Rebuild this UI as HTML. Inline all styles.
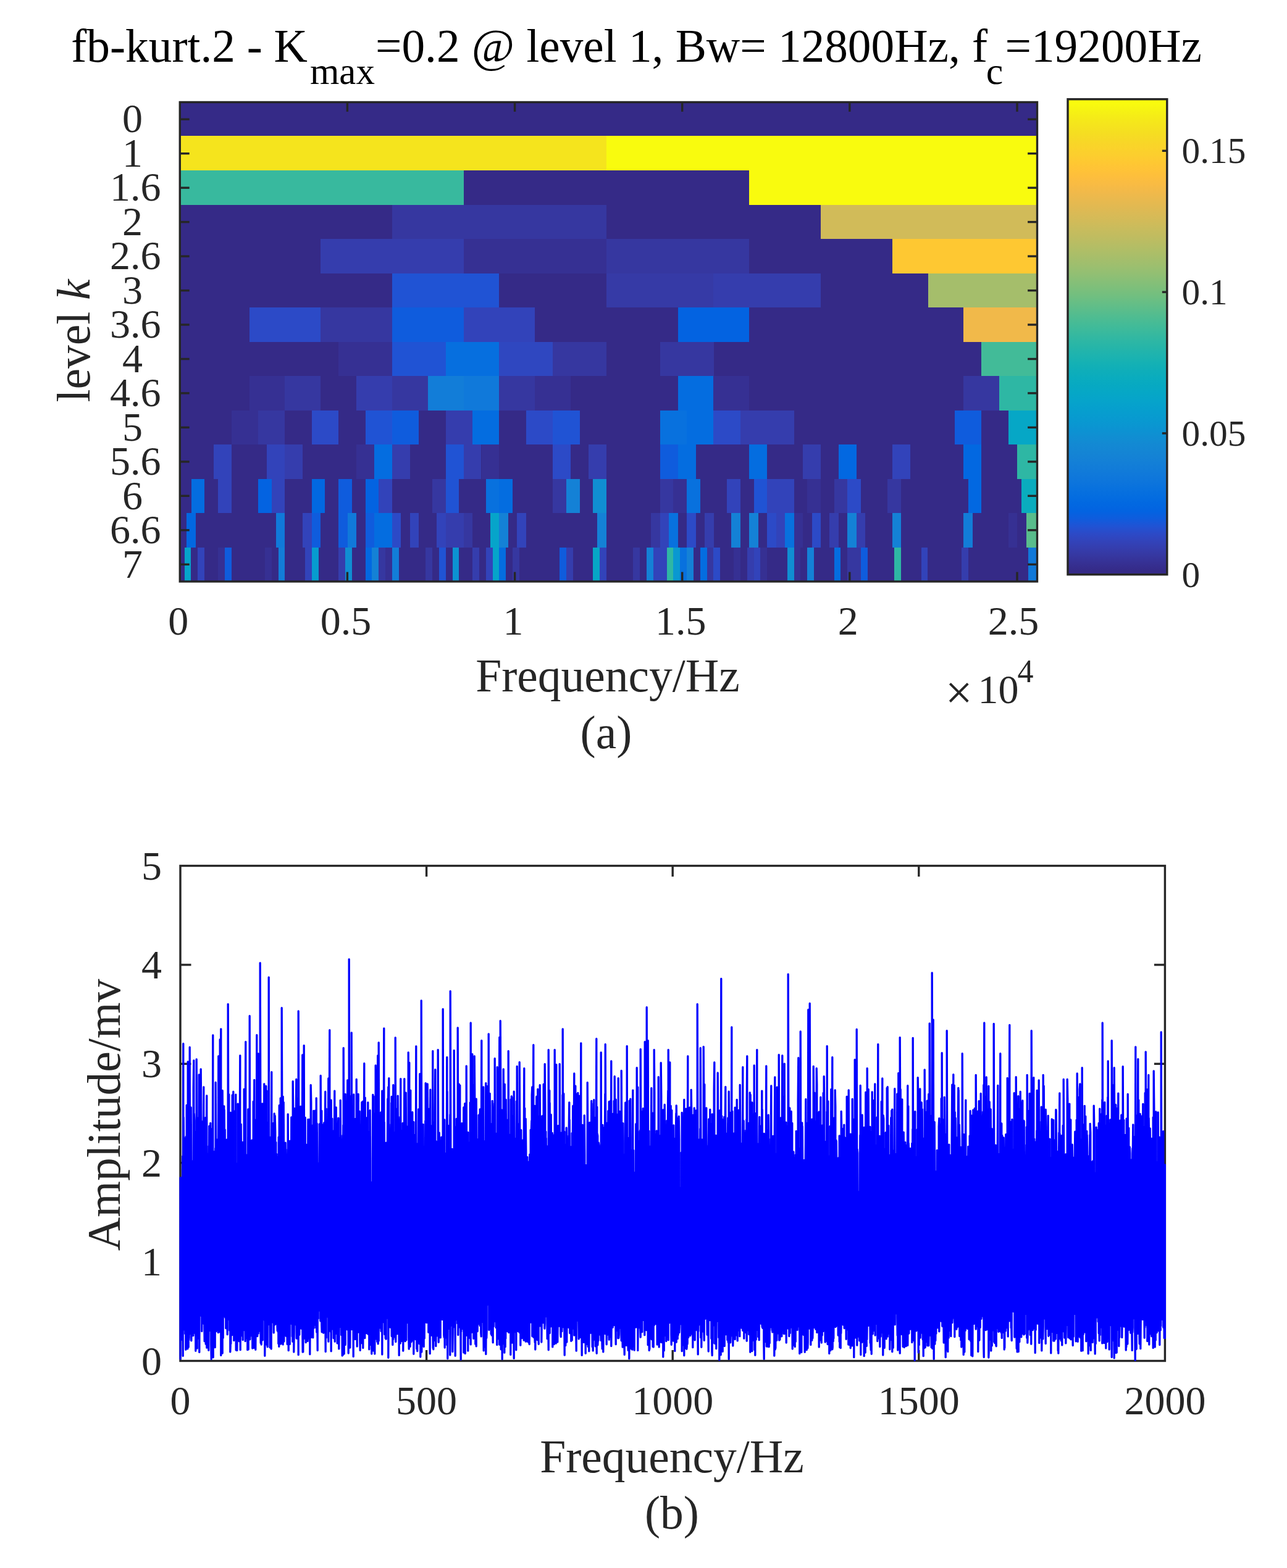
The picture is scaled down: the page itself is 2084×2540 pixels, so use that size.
<!DOCTYPE html>
<html lang="en"><head><meta charset="utf-8"><title>Fast kurtogram and spectrum</title>
<style>
html,body{margin:0;padding:0;background:#fff}
svg{display:block}
text{font-family:"Liberation Serif","DejaVu Serif",serif;white-space:pre}
</style></head><body>
<svg width="2084" height="2540" viewBox="0 0 2084 2540">
<rect width="2084" height="2540" fill="#fff"/>
<g shape-rendering="crispEdges">
<rect x="291.3" y="165.5" width="1388.2" height="776.5" fill="#352a87"/>
<rect x="291.3" y="219.9" width="690.6" height="56.5" fill="#f5e41d"/>
<rect x="981.9" y="219.9" width="697.6" height="56.5" fill="#f9fb0e"/>
<rect x="291.3" y="276.4" width="459.2" height="55.5" fill="#38b99e"/>
<rect x="1213.3" y="276.4" width="466.2" height="55.5" fill="#f9fb0e"/>
<rect x="634.9" y="331.9" width="347.1" height="55.5" fill="#3637a0"/>
<rect x="1329" y="331.9" width="350.5" height="55.5" fill="#d1bb59"/>
<rect x="519.2" y="387.4" width="231.4" height="55.5" fill="#353dad"/>
<rect x="750.5" y="387.4" width="231.4" height="55.5" fill="#363093"/>
<rect x="981.9" y="387.4" width="231.4" height="55.5" fill="#3637a0"/>
<rect x="1444.6" y="387.4" width="234.9" height="55.5" fill="#fec832"/>
<rect x="634.9" y="442.8" width="173.5" height="55.5" fill="#2053d4"/>
<rect x="981.9" y="442.8" width="173.5" height="55.5" fill="#363aa6"/>
<rect x="1155.4" y="442.8" width="173.5" height="55.5" fill="#353dad"/>
<rect x="1502.5" y="442.8" width="177" height="55.5" fill="#a5be6b"/>
<rect x="403.5" y="498.3" width="115.7" height="55.5" fill="#2c4ac7"/>
<rect x="519.2" y="498.3" width="115.7" height="55.5" fill="#3637a0"/>
<rect x="634.9" y="498.3" width="115.7" height="55.5" fill="#0f5cdd"/>
<rect x="750.5" y="498.3" width="115.7" height="55.5" fill="#3243ba"/>
<rect x="1097.6" y="498.3" width="115.7" height="55.5" fill="#0363e1"/>
<rect x="1560.3" y="498.3" width="119.2" height="55.5" fill="#f1b94a"/>
<rect x="548.1" y="553.8" width="86.8" height="55.5" fill="#363093"/>
<rect x="634.9" y="553.8" width="86.8" height="55.5" fill="#2053d4"/>
<rect x="721.6" y="553.8" width="86.8" height="55.5" fill="#066fdf"/>
<rect x="808.4" y="553.8" width="86.8" height="55.5" fill="#2f47c0"/>
<rect x="895.1" y="553.8" width="86.8" height="55.5" fill="#3637a0"/>
<rect x="1068.7" y="553.8" width="86.8" height="55.5" fill="#3637a0"/>
<rect x="1589.2" y="553.8" width="90.3" height="55.5" fill="#42bb98"/>
<rect x="403.5" y="609.2" width="57.8" height="55.5" fill="#363093"/>
<rect x="461.3" y="609.2" width="57.8" height="55.5" fill="#3637a0"/>
<rect x="577" y="609.2" width="57.8" height="55.5" fill="#353dad"/>
<rect x="634.9" y="609.2" width="57.8" height="55.5" fill="#3637a0"/>
<rect x="692.7" y="609.2" width="57.8" height="55.5" fill="#127dd8"/>
<rect x="750.5" y="609.2" width="57.8" height="55.5" fill="#1079da"/>
<rect x="808.4" y="609.2" width="57.8" height="55.5" fill="#3637a0"/>
<rect x="866.2" y="609.2" width="57.8" height="55.5" fill="#363093"/>
<rect x="1097.6" y="609.2" width="57.8" height="55.5" fill="#046de0"/>
<rect x="1155.4" y="609.2" width="57.8" height="55.5" fill="#363093"/>
<rect x="1560.3" y="609.2" width="57.8" height="55.5" fill="#3637a0"/>
<rect x="1618.2" y="609.2" width="61.3" height="55.5" fill="#2eb7a4"/>
<rect x="374.6" y="664.7" width="43.4" height="55.5" fill="#363093"/>
<rect x="417.9" y="664.7" width="43.4" height="55.5" fill="#3637a0"/>
<rect x="504.7" y="664.7" width="43.4" height="55.5" fill="#2c4ac7"/>
<rect x="591.5" y="664.7" width="43.4" height="55.5" fill="#2053d4"/>
<rect x="634.9" y="664.7" width="43.4" height="55.5" fill="#0f5cdd"/>
<rect x="721.6" y="664.7" width="43.4" height="55.5" fill="#353dad"/>
<rect x="765" y="664.7" width="43.4" height="55.5" fill="#046de0"/>
<rect x="851.8" y="664.7" width="43.4" height="55.5" fill="#2c4ac7"/>
<rect x="895.1" y="664.7" width="43.4" height="55.5" fill="#2053d4"/>
<rect x="1068.7" y="664.7" width="43.4" height="55.5" fill="#0871de"/>
<rect x="1112" y="664.7" width="43.4" height="55.5" fill="#046de0"/>
<rect x="1155.4" y="664.7" width="43.4" height="55.5" fill="#2c4ac7"/>
<rect x="1198.8" y="664.7" width="86.8" height="55.5" fill="#353dad"/>
<rect x="1545.9" y="664.7" width="43.4" height="55.5" fill="#0f5cdd"/>
<rect x="1632.6" y="664.7" width="46.9" height="55.5" fill="#06a7c6"/>
<rect x="345.6" y="720.1" width="28.9" height="55.5" fill="#3243ba"/>
<rect x="432.4" y="720.1" width="28.9" height="55.5" fill="#3243ba"/>
<rect x="461.3" y="720.1" width="28.9" height="55.5" fill="#353dad"/>
<rect x="577" y="720.1" width="28.9" height="55.5" fill="#363093"/>
<rect x="605.9" y="720.1" width="28.9" height="55.5" fill="#046de0"/>
<rect x="634.9" y="720.1" width="28.9" height="55.5" fill="#353dad"/>
<rect x="721.6" y="720.1" width="28.9" height="55.5" fill="#2053d4"/>
<rect x="750.5" y="720.1" width="28.9" height="55.5" fill="#353dad"/>
<rect x="779.5" y="720.1" width="28.9" height="55.5" fill="#363093"/>
<rect x="895.1" y="720.1" width="28.9" height="55.5" fill="#2c4ac7"/>
<rect x="953" y="720.1" width="28.9" height="55.5" fill="#353dad"/>
<rect x="1068.7" y="720.1" width="28.9" height="55.5" fill="#0f5cdd"/>
<rect x="1097.6" y="720.1" width="28.9" height="55.5" fill="#046de0"/>
<rect x="1213.3" y="720.1" width="28.9" height="55.5" fill="#046de0"/>
<rect x="1300" y="720.1" width="28.9" height="55.5" fill="#353dad"/>
<rect x="1357.9" y="720.1" width="28.9" height="55.5" fill="#0268e1"/>
<rect x="1444.6" y="720.1" width="28.9" height="55.5" fill="#3243ba"/>
<rect x="1560.3" y="720.1" width="28.9" height="55.5" fill="#0268e1"/>
<rect x="1647.1" y="720.1" width="32.4" height="55.5" fill="#2eb7a4"/>
<rect x="309.5" y="775.6" width="21.7" height="55.5" fill="#046de0"/>
<rect x="352.9" y="775.6" width="21.7" height="55.5" fill="#3243ba"/>
<rect x="417.9" y="775.6" width="21.7" height="55.5" fill="#0363e1"/>
<rect x="439.6" y="775.6" width="21.7" height="55.5" fill="#3243ba"/>
<rect x="504.7" y="775.6" width="21.7" height="55.5" fill="#0268e1"/>
<rect x="548.1" y="775.6" width="21.7" height="55.5" fill="#0f5cdd"/>
<rect x="591.5" y="775.6" width="21.7" height="55.5" fill="#0363e1"/>
<rect x="613.2" y="775.6" width="21.7" height="55.5" fill="#3243ba"/>
<rect x="699.9" y="775.6" width="21.7" height="55.5" fill="#3637a0"/>
<rect x="721.6" y="775.6" width="21.7" height="55.5" fill="#2053d4"/>
<rect x="786.7" y="775.6" width="21.7" height="55.5" fill="#0871de"/>
<rect x="808.4" y="775.6" width="21.7" height="55.5" fill="#046de0"/>
<rect x="895.1" y="775.6" width="21.7" height="55.5" fill="#3637a0"/>
<rect x="916.8" y="775.6" width="21.7" height="55.5" fill="#1481d6"/>
<rect x="960.2" y="775.6" width="21.7" height="55.5" fill="#108ed2"/>
<rect x="1068.7" y="775.6" width="21.7" height="55.5" fill="#3637a0"/>
<rect x="1090.4" y="775.6" width="21.7" height="55.5" fill="#363093"/>
<rect x="1112" y="775.6" width="21.7" height="55.5" fill="#0871de"/>
<rect x="1177.1" y="775.6" width="21.7" height="55.5" fill="#3243ba"/>
<rect x="1220.5" y="775.6" width="21.7" height="55.5" fill="#2053d4"/>
<rect x="1242.2" y="775.6" width="43.4" height="55.5" fill="#3243ba"/>
<rect x="1307.3" y="775.6" width="21.7" height="55.5" fill="#363093"/>
<rect x="1350.6" y="775.6" width="21.7" height="55.5" fill="#3637a0"/>
<rect x="1372.3" y="775.6" width="21.7" height="55.5" fill="#2c4ac7"/>
<rect x="1437.4" y="775.6" width="21.7" height="55.5" fill="#3637a0"/>
<rect x="1567.5" y="775.6" width="21.7" height="55.5" fill="#0268e1"/>
<rect x="1654.3" y="775.6" width="25.2" height="55.5" fill="#0aacbe"/>
<rect x="302.3" y="831.1" width="14.5" height="55.5" fill="#0268e1"/>
<rect x="446.9" y="831.1" width="14.5" height="55.5" fill="#1079da"/>
<rect x="490.2" y="831.1" width="14.5" height="55.5" fill="#3243ba"/>
<rect x="504.7" y="831.1" width="14.5" height="55.5" fill="#0f5cdd"/>
<rect x="548.1" y="831.1" width="14.5" height="55.5" fill="#0f5cdd"/>
<rect x="562.5" y="831.1" width="14.5" height="55.5" fill="#1079da"/>
<rect x="591.5" y="831.1" width="14.5" height="55.5" fill="#0f5cdd"/>
<rect x="605.9" y="831.1" width="28.9" height="55.5" fill="#046de0"/>
<rect x="634.9" y="831.1" width="14.5" height="55.5" fill="#2c4ac7"/>
<rect x="663.8" y="831.1" width="14.5" height="55.5" fill="#3243ba"/>
<rect x="707.2" y="831.1" width="14.5" height="55.5" fill="#3243ba"/>
<rect x="721.6" y="831.1" width="28.9" height="55.5" fill="#353dad"/>
<rect x="750.5" y="831.1" width="14.5" height="55.5" fill="#3637a0"/>
<rect x="793.9" y="831.1" width="14.5" height="55.5" fill="#06a4ca"/>
<rect x="808.4" y="831.1" width="14.5" height="55.5" fill="#1481d6"/>
<rect x="837.3" y="831.1" width="14.5" height="55.5" fill="#3243ba"/>
<rect x="967.4" y="831.1" width="14.5" height="55.5" fill="#1481d6"/>
<rect x="1054.2" y="831.1" width="14.5" height="55.5" fill="#3637a0"/>
<rect x="1068.7" y="831.1" width="14.5" height="55.5" fill="#3243ba"/>
<rect x="1083.1" y="831.1" width="14.5" height="55.5" fill="#0871de"/>
<rect x="1112" y="831.1" width="14.5" height="55.5" fill="#2c4ac7"/>
<rect x="1141" y="831.1" width="14.5" height="55.5" fill="#353dad"/>
<rect x="1184.3" y="831.1" width="14.5" height="55.5" fill="#1481d6"/>
<rect x="1213.3" y="831.1" width="14.5" height="55.5" fill="#1481d6"/>
<rect x="1242.2" y="831.1" width="14.5" height="55.5" fill="#2c4ac7"/>
<rect x="1256.6" y="831.1" width="14.5" height="55.5" fill="#3243ba"/>
<rect x="1271.1" y="831.1" width="14.5" height="55.5" fill="#0871de"/>
<rect x="1285.6" y="831.1" width="14.5" height="55.5" fill="#363093"/>
<rect x="1314.5" y="831.1" width="14.5" height="55.5" fill="#2c4ac7"/>
<rect x="1343.4" y="831.1" width="14.5" height="55.5" fill="#353dad"/>
<rect x="1372.3" y="831.1" width="14.5" height="55.5" fill="#1481d6"/>
<rect x="1386.8" y="831.1" width="14.5" height="55.5" fill="#353dad"/>
<rect x="1444.6" y="831.1" width="14.5" height="55.5" fill="#1481d6"/>
<rect x="1560.3" y="831.1" width="14.5" height="55.5" fill="#127dd8"/>
<rect x="1632.6" y="831.1" width="14.5" height="55.5" fill="#363093"/>
<rect x="1661.5" y="831.1" width="18" height="55.5" fill="#59bd8c"/>
<rect x="298.6" y="886.5" width="10.8" height="55.5" fill="#06a4ca"/>
<rect x="320.3" y="886.5" width="10.8" height="55.5" fill="#3243ba"/>
<rect x="352.9" y="886.5" width="10.8" height="55.5" fill="#363093"/>
<rect x="363.7" y="886.5" width="10.8" height="55.5" fill="#0f5cdd"/>
<rect x="428.8" y="886.5" width="10.8" height="55.5" fill="#363093"/>
<rect x="450.5" y="886.5" width="10.8" height="55.5" fill="#127dd8"/>
<rect x="493.9" y="886.5" width="10.8" height="55.5" fill="#3243ba"/>
<rect x="504.7" y="886.5" width="10.8" height="55.5" fill="#079ccf"/>
<rect x="548.1" y="886.5" width="10.8" height="55.5" fill="#353dad"/>
<rect x="558.9" y="886.5" width="10.8" height="55.5" fill="#108ed2"/>
<rect x="591.5" y="886.5" width="10.8" height="55.5" fill="#0268e1"/>
<rect x="602.3" y="886.5" width="10.8" height="55.5" fill="#1481d6"/>
<rect x="613.2" y="886.5" width="10.8" height="55.5" fill="#3637a0"/>
<rect x="624" y="886.5" width="10.8" height="55.5" fill="#363093"/>
<rect x="634.9" y="886.5" width="10.8" height="55.5" fill="#127dd8"/>
<rect x="689.1" y="886.5" width="10.8" height="55.5" fill="#3637a0"/>
<rect x="710.8" y="886.5" width="10.8" height="55.5" fill="#2053d4"/>
<rect x="732.5" y="886.5" width="10.8" height="55.5" fill="#0c93d2"/>
<rect x="765" y="886.5" width="10.8" height="55.5" fill="#353dad"/>
<rect x="786.7" y="886.5" width="10.8" height="55.5" fill="#3243ba"/>
<rect x="797.5" y="886.5" width="10.8" height="55.5" fill="#06a4ca"/>
<rect x="808.4" y="886.5" width="10.8" height="55.5" fill="#046de0"/>
<rect x="830.1" y="886.5" width="10.8" height="55.5" fill="#3637a0"/>
<rect x="906" y="886.5" width="10.8" height="55.5" fill="#0f5cdd"/>
<rect x="916.8" y="886.5" width="10.8" height="55.5" fill="#353dad"/>
<rect x="960.2" y="886.5" width="10.8" height="55.5" fill="#06a7c6"/>
<rect x="971.1" y="886.5" width="10.8" height="55.5" fill="#3243ba"/>
<rect x="1025.3" y="886.5" width="10.8" height="55.5" fill="#3637a0"/>
<rect x="1047" y="886.5" width="10.8" height="55.5" fill="#1481d6"/>
<rect x="1057.8" y="886.5" width="21.7" height="55.5" fill="#3243ba"/>
<rect x="1079.5" y="886.5" width="10.8" height="55.5" fill="#2eb7a4"/>
<rect x="1090.4" y="886.5" width="10.8" height="55.5" fill="#0998d1"/>
<rect x="1101.2" y="886.5" width="10.8" height="55.5" fill="#0871de"/>
<rect x="1112" y="886.5" width="10.8" height="55.5" fill="#1481d6"/>
<rect x="1133.7" y="886.5" width="10.8" height="55.5" fill="#046de0"/>
<rect x="1144.6" y="886.5" width="10.8" height="55.5" fill="#3637a0"/>
<rect x="1155.4" y="886.5" width="10.8" height="55.5" fill="#2c4ac7"/>
<rect x="1188" y="886.5" width="10.8" height="55.5" fill="#363093"/>
<rect x="1209.7" y="886.5" width="10.8" height="55.5" fill="#353dad"/>
<rect x="1220.5" y="886.5" width="10.8" height="55.5" fill="#3243ba"/>
<rect x="1231.3" y="886.5" width="10.8" height="55.5" fill="#363093"/>
<rect x="1274.7" y="886.5" width="10.8" height="55.5" fill="#108ed2"/>
<rect x="1285.6" y="886.5" width="10.8" height="55.5" fill="#363093"/>
<rect x="1307.3" y="886.5" width="10.8" height="55.5" fill="#1481d6"/>
<rect x="1350.6" y="886.5" width="10.8" height="55.5" fill="#046de0"/>
<rect x="1372.3" y="886.5" width="21.7" height="55.5" fill="#3637a0"/>
<rect x="1394" y="886.5" width="10.8" height="55.5" fill="#0f5cdd"/>
<rect x="1448.2" y="886.5" width="10.8" height="55.5" fill="#2eb7a4"/>
<rect x="1491.6" y="886.5" width="10.8" height="55.5" fill="#3243ba"/>
<rect x="1556.7" y="886.5" width="10.8" height="55.5" fill="#353dad"/>
<rect x="1665.2" y="886.5" width="14.3" height="55.5" fill="#1079da"/>
</g>
<rect x="291.3" y="165.5" width="1388.2" height="776.5" fill="none" stroke="#262626" stroke-width="3.4"/>
<line x1="291.3" y1="193.2" x2="306.7" y2="193.2" stroke="#262626" stroke-width="3.4"/>
<line x1="1664.1" y1="193.2" x2="1679.5" y2="193.2" stroke="#262626" stroke-width="3.4"/>
<line x1="291.3" y1="248.7" x2="306.7" y2="248.7" stroke="#262626" stroke-width="3.4"/>
<line x1="1664.1" y1="248.7" x2="1679.5" y2="248.7" stroke="#262626" stroke-width="3.4"/>
<line x1="291.3" y1="304.2" x2="306.7" y2="304.2" stroke="#262626" stroke-width="3.4"/>
<line x1="1664.1" y1="304.2" x2="1679.5" y2="304.2" stroke="#262626" stroke-width="3.4"/>
<line x1="291.3" y1="359.6" x2="306.7" y2="359.6" stroke="#262626" stroke-width="3.4"/>
<line x1="1664.1" y1="359.6" x2="1679.5" y2="359.6" stroke="#262626" stroke-width="3.4"/>
<line x1="291.3" y1="415.1" x2="306.7" y2="415.1" stroke="#262626" stroke-width="3.4"/>
<line x1="1664.1" y1="415.1" x2="1679.5" y2="415.1" stroke="#262626" stroke-width="3.4"/>
<line x1="291.3" y1="470.6" x2="306.7" y2="470.6" stroke="#262626" stroke-width="3.4"/>
<line x1="1664.1" y1="470.6" x2="1679.5" y2="470.6" stroke="#262626" stroke-width="3.4"/>
<line x1="291.3" y1="526" x2="306.7" y2="526" stroke="#262626" stroke-width="3.4"/>
<line x1="1664.1" y1="526" x2="1679.5" y2="526" stroke="#262626" stroke-width="3.4"/>
<line x1="291.3" y1="581.5" x2="306.7" y2="581.5" stroke="#262626" stroke-width="3.4"/>
<line x1="1664.1" y1="581.5" x2="1679.5" y2="581.5" stroke="#262626" stroke-width="3.4"/>
<line x1="291.3" y1="636.9" x2="306.7" y2="636.9" stroke="#262626" stroke-width="3.4"/>
<line x1="1664.1" y1="636.9" x2="1679.5" y2="636.9" stroke="#262626" stroke-width="3.4"/>
<line x1="291.3" y1="692.4" x2="306.7" y2="692.4" stroke="#262626" stroke-width="3.4"/>
<line x1="1664.1" y1="692.4" x2="1679.5" y2="692.4" stroke="#262626" stroke-width="3.4"/>
<line x1="291.3" y1="747.9" x2="306.7" y2="747.9" stroke="#262626" stroke-width="3.4"/>
<line x1="1664.1" y1="747.9" x2="1679.5" y2="747.9" stroke="#262626" stroke-width="3.4"/>
<line x1="291.3" y1="803.3" x2="306.7" y2="803.3" stroke="#262626" stroke-width="3.4"/>
<line x1="1664.1" y1="803.3" x2="1679.5" y2="803.3" stroke="#262626" stroke-width="3.4"/>
<line x1="291.3" y1="858.8" x2="306.7" y2="858.8" stroke="#262626" stroke-width="3.4"/>
<line x1="1664.1" y1="858.8" x2="1679.5" y2="858.8" stroke="#262626" stroke-width="3.4"/>
<line x1="291.3" y1="914.3" x2="306.7" y2="914.3" stroke="#262626" stroke-width="3.4"/>
<line x1="1664.1" y1="914.3" x2="1679.5" y2="914.3" stroke="#262626" stroke-width="3.4"/>
<line x1="562.4" y1="942" x2="562.4" y2="926.6" stroke="#262626" stroke-width="3.4"/>
<line x1="562.4" y1="165.5" x2="562.4" y2="180.9" stroke="#262626" stroke-width="3.4"/>
<line x1="833.6" y1="942" x2="833.6" y2="926.6" stroke="#262626" stroke-width="3.4"/>
<line x1="833.6" y1="165.5" x2="833.6" y2="180.9" stroke="#262626" stroke-width="3.4"/>
<line x1="1104.7" y1="942" x2="1104.7" y2="926.6" stroke="#262626" stroke-width="3.4"/>
<line x1="1104.7" y1="165.5" x2="1104.7" y2="180.9" stroke="#262626" stroke-width="3.4"/>
<line x1="1375.8" y1="942" x2="1375.8" y2="926.6" stroke="#262626" stroke-width="3.4"/>
<line x1="1375.8" y1="165.5" x2="1375.8" y2="180.9" stroke="#262626" stroke-width="3.4"/>
<line x1="1647" y1="942" x2="1647" y2="926.6" stroke="#262626" stroke-width="3.4"/>
<line x1="1647" y1="165.5" x2="1647" y2="180.9" stroke="#262626" stroke-width="3.4"/>
<defs><linearGradient id="pg" x1="0" y1="1" x2="0" y2="0">
<stop offset="0.0078" stop-color="#352a87"/>
<stop offset="0.0234" stop-color="#363093"/>
<stop offset="0.0391" stop-color="#3637a0"/>
<stop offset="0.0547" stop-color="#353dad"/>
<stop offset="0.0703" stop-color="#3243ba"/>
<stop offset="0.0859" stop-color="#2c4ac7"/>
<stop offset="0.1016" stop-color="#2053d4"/>
<stop offset="0.1172" stop-color="#0f5cdd"/>
<stop offset="0.1328" stop-color="#0363e1"/>
<stop offset="0.1484" stop-color="#0268e1"/>
<stop offset="0.1641" stop-color="#046de0"/>
<stop offset="0.1797" stop-color="#0871de"/>
<stop offset="0.1953" stop-color="#0d75dc"/>
<stop offset="0.2109" stop-color="#1079da"/>
<stop offset="0.2266" stop-color="#127dd8"/>
<stop offset="0.2422" stop-color="#1481d6"/>
<stop offset="0.2578" stop-color="#1485d4"/>
<stop offset="0.2734" stop-color="#1389d3"/>
<stop offset="0.2891" stop-color="#108ed2"/>
<stop offset="0.3047" stop-color="#0c93d2"/>
<stop offset="0.3203" stop-color="#0998d1"/>
<stop offset="0.3359" stop-color="#079ccf"/>
<stop offset="0.3516" stop-color="#06a0cd"/>
<stop offset="0.3672" stop-color="#06a4ca"/>
<stop offset="0.3828" stop-color="#06a7c6"/>
<stop offset="0.3984" stop-color="#07a9c2"/>
<stop offset="0.4141" stop-color="#0aacbe"/>
<stop offset="0.4297" stop-color="#0faeb9"/>
<stop offset="0.4453" stop-color="#15b1b4"/>
<stop offset="0.4609" stop-color="#1db3af"/>
<stop offset="0.4766" stop-color="#25b5a9"/>
<stop offset="0.4922" stop-color="#2eb7a4"/>
<stop offset="0.5078" stop-color="#38b99e"/>
<stop offset="0.5234" stop-color="#42bb98"/>
<stop offset="0.5391" stop-color="#4dbc92"/>
<stop offset="0.5547" stop-color="#59bd8c"/>
<stop offset="0.5703" stop-color="#65be86"/>
<stop offset="0.5859" stop-color="#71bf80"/>
<stop offset="0.6016" stop-color="#7cbf7b"/>
<stop offset="0.6172" stop-color="#87bf77"/>
<stop offset="0.6328" stop-color="#92bf73"/>
<stop offset="0.6484" stop-color="#9cbf6f"/>
<stop offset="0.6641" stop-color="#a5be6b"/>
<stop offset="0.6797" stop-color="#aebe67"/>
<stop offset="0.6953" stop-color="#b7bd64"/>
<stop offset="0.7109" stop-color="#c0bc60"/>
<stop offset="0.7266" stop-color="#c8bc5d"/>
<stop offset="0.7422" stop-color="#d1bb59"/>
<stop offset="0.7578" stop-color="#d9ba56"/>
<stop offset="0.7734" stop-color="#e1b952"/>
<stop offset="0.7891" stop-color="#e9b94e"/>
<stop offset="0.8047" stop-color="#f1b94a"/>
<stop offset="0.8203" stop-color="#f8bb44"/>
<stop offset="0.8359" stop-color="#fdbe3d"/>
<stop offset="0.8516" stop-color="#ffc337"/>
<stop offset="0.8672" stop-color="#fec832"/>
<stop offset="0.8828" stop-color="#fcce2e"/>
<stop offset="0.8984" stop-color="#fad32a"/>
<stop offset="0.9141" stop-color="#f7d826"/>
<stop offset="0.9297" stop-color="#f5de21"/>
<stop offset="0.9453" stop-color="#f5e41d"/>
<stop offset="0.9609" stop-color="#f5eb18"/>
<stop offset="0.9766" stop-color="#f6f313"/>
<stop offset="0.9922" stop-color="#f9fb0e"/>
</linearGradient></defs>
<rect x="1729" y="160.7" width="160.8" height="770" fill="url(#pg)"/>
<rect x="1729" y="160.7" width="160.8" height="770" fill="none" stroke="#262626" stroke-width="3.4"/>
<line x1="1881.8" y1="701.9" x2="1889.8" y2="701.9" stroke="#262626" stroke-width="3.4"/>
<line x1="1881.8" y1="473.1" x2="1889.8" y2="473.1" stroke="#262626" stroke-width="3.4"/>
<line x1="1881.8" y1="244.3" x2="1889.8" y2="244.3" stroke="#262626" stroke-width="3.4"/>
<text x="1913.5" y="950.7" font-size="59.4" text-anchor="start" fill="#262626">0</text>
<text x="1913.5" y="721.9" font-size="59.4" text-anchor="start" fill="#262626">0.05</text>
<text x="1913.5" y="493.1" font-size="59.4" text-anchor="start" fill="#262626">0.1</text>
<text x="1913.5" y="264.3" font-size="59.4" text-anchor="start" fill="#262626">0.15</text>
<text x="231" y="214.4" font-size="66" text-anchor="end" fill="#262626">0</text>
<text x="231" y="269.9" font-size="66" text-anchor="end" fill="#262626">1</text>
<text x="260.5" y="325.4" font-size="66" text-anchor="end" fill="#262626">1.6</text>
<text x="231" y="380.8" font-size="66" text-anchor="end" fill="#262626">2</text>
<text x="260.5" y="436.3" font-size="66" text-anchor="end" fill="#262626">2.6</text>
<text x="231" y="491.8" font-size="66" text-anchor="end" fill="#262626">3</text>
<text x="260.5" y="547.2" font-size="66" text-anchor="end" fill="#262626">3.6</text>
<text x="231" y="602.7" font-size="66" text-anchor="end" fill="#262626">4</text>
<text x="260.5" y="658.1" font-size="66" text-anchor="end" fill="#262626">4.6</text>
<text x="231" y="713.6" font-size="66" text-anchor="end" fill="#262626">5</text>
<text x="260.5" y="769.1" font-size="66" text-anchor="end" fill="#262626">5.6</text>
<text x="231" y="824.5" font-size="66" text-anchor="end" fill="#262626">6</text>
<text x="260.5" y="880" font-size="66" text-anchor="end" fill="#262626">6.6</text>
<text x="231" y="935.5" font-size="66" text-anchor="end" fill="#262626">7</text>
<text x="288.8" y="1027.5" font-size="66" text-anchor="middle" fill="#262626">0</text>
<text x="559.9" y="1027.5" font-size="66" text-anchor="middle" fill="#262626">0.5</text>
<text x="831.1" y="1027.5" font-size="66" text-anchor="middle" fill="#262626">1</text>
<text x="1102.2" y="1027.5" font-size="66" text-anchor="middle" fill="#262626">1.5</text>
<text x="1373.3" y="1027.5" font-size="66" text-anchor="middle" fill="#262626">2</text>
<text x="1641" y="1027.5" font-size="66" text-anchor="middle" fill="#262626">2.5</text>
<text x="984" y="1120.3" font-size="75.5" text-anchor="middle" fill="#262626">Frequency/Hz</text>
<text x="1530.8" y="1147.7" font-size="78" text-anchor="start" fill="#262626">×</text>
<text x="1583.4" y="1139.4" font-size="66" text-anchor="start" fill="#262626">10</text>
<text x="1647.6" y="1105" font-size="52" text-anchor="start" fill="#262626">4</text>
<text x="981.5" y="1211.5" font-size="75.5" text-anchor="middle" fill="#262626">(a)</text>
<text transform="translate(145,552) rotate(-90)" font-size="75.5" text-anchor="middle" fill="#262626">level <tspan font-style="italic">k</tspan></text>
<text x="115.3" y="100" font-size="75.3" fill="#000">fb-kurt.2 - K</text>
<text x="501.9" y="135.5" font-size="61" fill="#000">max</text>
<text x="608" y="100" font-size="75.3" fill="#000" word-spacing="0.4">=0.2 @ level 1, Bw= 12800Hz, f</text>
<text x="1596.8" y="135.5" font-size="62" fill="#000">c</text>
<text x="1627.5" y="100" font-size="75.3" fill="#000">=19200Hz</text>
<rect x="292" y="1402.5" width="1594.4" height="802" fill="none" stroke="#262626" stroke-width="3.4"/>
<line x1="690.6" y1="2204.5" x2="690.6" y2="2187" stroke="#262626" stroke-width="3.4"/>
<line x1="690.6" y1="1402.5" x2="690.6" y2="1420" stroke="#262626" stroke-width="3.4"/>
<line x1="1089.2" y1="2204.5" x2="1089.2" y2="2187" stroke="#262626" stroke-width="3.4"/>
<line x1="1089.2" y1="1402.5" x2="1089.2" y2="1420" stroke="#262626" stroke-width="3.4"/>
<line x1="1487.8" y1="2204.5" x2="1487.8" y2="2187" stroke="#262626" stroke-width="3.4"/>
<line x1="1487.8" y1="1402.5" x2="1487.8" y2="1420" stroke="#262626" stroke-width="3.4"/>
<line x1="292" y1="2044.1" x2="309.5" y2="2044.1" stroke="#262626" stroke-width="3.4"/>
<line x1="1868.9" y1="2044.1" x2="1886.4" y2="2044.1" stroke="#262626" stroke-width="3.4"/>
<line x1="292" y1="1883.7" x2="309.5" y2="1883.7" stroke="#262626" stroke-width="3.4"/>
<line x1="1868.9" y1="1883.7" x2="1886.4" y2="1883.7" stroke="#262626" stroke-width="3.4"/>
<line x1="292" y1="1723.3" x2="309.5" y2="1723.3" stroke="#262626" stroke-width="3.4"/>
<line x1="1868.9" y1="1723.3" x2="1886.4" y2="1723.3" stroke="#262626" stroke-width="3.4"/>
<line x1="292" y1="1562.9" x2="309.5" y2="1562.9" stroke="#262626" stroke-width="3.4"/>
<line x1="1868.9" y1="1562.9" x2="1886.4" y2="1562.9" stroke="#262626" stroke-width="3.4"/>
<text x="262" y="2226.5" font-size="66" text-anchor="end" fill="#262626">0</text>
<text x="262" y="2066.1" font-size="66" text-anchor="end" fill="#262626">1</text>
<text x="262" y="1905.7" font-size="66" text-anchor="end" fill="#262626">2</text>
<text x="262" y="1745.3" font-size="66" text-anchor="end" fill="#262626">3</text>
<text x="262" y="1584.9" font-size="66" text-anchor="end" fill="#262626">4</text>
<text x="262" y="1424.5" font-size="66" text-anchor="end" fill="#262626">5</text>
<text x="292" y="2291" font-size="66" text-anchor="middle" fill="#262626">0</text>
<text x="690.6" y="2291" font-size="66" text-anchor="middle" fill="#262626">500</text>
<text x="1089.2" y="2291" font-size="66" text-anchor="middle" fill="#262626">1000</text>
<text x="1487.8" y="2291" font-size="66" text-anchor="middle" fill="#262626">1500</text>
<text x="1886.4" y="2291" font-size="66" text-anchor="middle" fill="#262626">2000</text>
<text x="1088" y="2385" font-size="75.5" text-anchor="middle" fill="#262626">Frequency/Hz</text>
<text x="1088" y="2475.5" font-size="75.5" text-anchor="middle" fill="#262626">(b)</text>
<text transform="translate(194.2,1806) rotate(-90)" font-size="75.5" text-anchor="middle" fill="#262626">Amplitude/mv</text>
<clipPath id="pc"><rect x="290.1" y="1400.5" width="1598" height="806"/></clipPath>
<polyline clip-path="url(#pc)" points="292,2201.3 292,1907.8 292.8,1929.5 292.8,2145.6 293.2,2148.2 293.2,1907.8 293.8,1907.8 293.8,2170.3 294.2,2123 294.2,1950.6 294.8,1913.8 294.8,2059.1 295.2,2082 295.2,1981.5 295.8,1872.8 295.8,2108.4 296.2,2196.4 296.2,1954 296.8,1690.7 296.8,2137.5 297.2,2154.1 297.2,1810 297.8,1908.5 297.8,2123.7 298.2,2121.8 298.2,1953.7 298.8,1932.6 298.8,2112.8 299.2,2035.2 299.2,1844 299.8,1893.3 299.8,2160.6 300.2,2146.8 300.2,1925.5 300.8,1921.7 300.8,2186.3 301.2,2153 301.2,1841.1 301.8,1980.9 301.8,2123.3 302.2,2164.6 302.2,1790.3 302.8,1870.7 302.8,2111.7 303.2,2112 303.2,1910.1 303.8,1927.7 303.8,2184.9 304.2,2171.5 304.2,1719.8 304.8,1842.3 304.8,2122.6 305.2,2182.3 305.2,1856.2 305.8,1895.2 305.8,2171 306.2,2166.6 306.2,1869.5 306.8,1955.4 306.8,2114.5 307.2,2104.9 307.2,1696.5 307.8,2024.6 307.8,2132 308.2,2150.1 308.2,1859.8 308.8,1836 308.8,2079 309.2,2161.2 309.2,1793.9 309.8,1922.9 309.8,2171.8 310.2,2137.6 310.2,1880.6 310.8,1923.7 310.8,2132.8 311.2,2119 311.2,1918.9 311.8,1882.8 311.8,2134.8 312.2,2073.1 312.2,1880.7 312.8,1949.5 312.8,2163.7 313.2,2154.4 313.2,1762.1 313.8,1717.8 313.8,2060.2 314.2,2151.1 314.2,1803.9 314.8,1815.7 314.8,2122.5 315.2,2159.2 315.2,1852.2 315.8,2114.1 315.8,2157.2 316.2,2137.8 316.2,1833.4 316.8,1845 316.8,2188.3 317.2,2050.8 317.2,1883.2 317.8,1895.6 317.8,2135.4 318.2,2103.9 318.2,1715.9 318.8,1848 318.8,2133.2 319.2,2184.2 319.2,1919.1 319.8,1828 319.8,2112.8 320.2,2131 320.2,1867 320.8,1934.1 320.8,2168 321.2,2131.6 321.2,1916.2 321.8,1810.2 321.8,2092.8 322.2,2118.5 322.2,1740.8 322.8,1854.1 322.8,2190.4 323.2,2080.6 323.2,1801.7 323.8,1875.7 323.8,2060.4 324.2,2091.2 324.2,1855.7 324.8,1880.9 324.8,2062.6 325.2,2130.2 325.2,1731.9 325.8,1831 325.8,2104.9 326.2,2131.8 326.2,1860.8 326.8,1816.7 326.8,2156.4 327.2,2070.5 327.2,1824.6 327.8,1873.9 327.8,2121.6 328.2,2134.8 328.2,1847.2 328.8,1984.9 328.8,2100.7 329.2,2101.6 329.2,1901.3 329.8,1761 329.8,2058.7 330.2,2144.7 330.2,2024 330.8,1931.6 330.8,2142.5 331.2,2172.7 331.2,1817.7 331.8,1816.5 331.8,2083 332.2,2129.8 332.2,1922 332.8,1810.6 332.8,2117.9 333.2,2177.2 333.2,1875.6 333.8,1823.4 333.8,2161.3 334.2,2128.5 334.2,1849.8 334.8,1775 334.8,2183.2 335.2,2095.3 335.2,1856.3 335.8,1950.8 335.8,2166.7 336.2,2144.8 336.2,1882.7 336.8,1870.7 336.8,2177.6 337.2,2131 337.2,1869.4 337.8,2021.9 337.8,2187.3 338.2,2133.3 338.2,1981 338.8,1824.1 338.8,2126 339.2,2123.6 339.2,1889.9 339.8,1902.5 339.8,2090.1 340.2,2104.3 340.2,1895.9 340.8,1819.3 340.8,2155.4 341.2,2113.3 341.2,1913.9 341.8,1942.4 341.8,2178.3 342.2,2201.6 342.2,1870.3 342.8,1829 342.8,2159.2 343.2,2166 343.2,1916.7 343.8,1893.5 343.8,2115.9 344.2,2153.4 344.2,1965.2 344.8,1676.9 344.8,2087.9 345.2,2198.8 345.2,1904.7 345.8,1931 345.8,2143.8 346.2,2150 346.2,1887.4 346.8,1891.2 346.8,2128.7 347.2,2074.4 347.2,1948.4 347.8,1865.2 347.8,2117.2 348.2,2182.7 348.2,1921.7 348.8,1860 348.8,2051.8 349.2,2151.3 349.2,1753.4 349.8,1925 349.8,2156.7 350.2,2152.2 350.2,1989.6 350.8,1846 350.8,2121.6 351.2,2141.9 351.2,1981.2 351.8,1937.2 351.8,2116.3 352.2,2102.2 352.2,1932.8 352.8,1887 352.8,2069.1 353.2,2158.5 353.2,1945.4 353.8,1710.8 353.8,2158.3 354.2,2060.6 354.2,1894.8 354.8,1893.4 354.8,2097.3 355.2,2121.2 355.2,1887.5 355.8,1953.4 355.8,2106.1 356.2,2047.9 356.2,1684 356.8,1851.7 356.8,2157.9 357.2,2093.3 357.2,1848.1 357.8,1666.8 357.8,2195.6 358.2,2154.1 358.2,1955.5 358.8,1792.4 358.8,2165.2 359.2,2103.2 359.2,1910.2 359.8,1881.9 359.8,2086.2 360.2,2192 360.2,1766.6 360.8,1844.7 360.8,2148.4 361.2,2167.3 361.2,1947.1 361.8,1928.8 361.8,2092.2 362.2,2108.3 362.2,1817.7 362.8,1791.8 362.8,2120.2 363.2,2128.3 363.2,1797.9 363.8,1904 363.8,2073 364.2,2132.6 364.2,1829.9 364.8,1976.8 364.8,2134.3 365.2,2121.4 365.2,1858.6 365.8,1924.9 365.8,2151.7 366.2,2106.5 366.2,1921 366.8,1930.2 366.8,2099 367.2,2095.7 367.2,1846.1 367.8,1933.1 367.8,2114.2 368.2,2161.7 368.2,1943.4 368.8,1862.3 368.8,2110.5 369.2,2085.1 369.2,1626.6 369.8,1823 369.8,2102.4 370.2,2120 370.2,1881.1 370.8,1772.8 370.8,2137.5 371.2,2098.3 371.2,1902.3 371.8,1954.7 371.8,2155 372.2,2133.9 372.2,1881.2 372.8,1939.6 372.8,2189.9 373.2,2179.9 373.2,1802.3 373.8,1989.4 373.8,2176.7 374.2,2127.5 374.2,1825 374.8,1887 374.8,2125.5 375.2,2128.3 375.2,1831.4 375.8,1902 375.8,2162.5 376.2,2119.4 376.2,1773.8 376.8,1943.4 376.8,2137.9 377.2,2117.4 377.2,1864.9 377.8,1768.4 377.8,2118.5 378.2,2147.3 378.2,1865.1 378.8,1970.2 378.8,2171.4 379.2,2116.6 379.2,1913 379.8,1848.4 379.8,2041.9 380.2,2139.2 380.2,1949.5 380.8,1799.7 380.8,2073 381.2,2100 381.2,1894.5 381.8,1773.2 381.8,2066.8 382.2,2187 382.2,2001.9 382.8,2057.7 382.8,2139.8 383.2,2128.5 383.2,1936 383.8,1884.8 383.8,2187.6 384.2,2148.7 384.2,1922.6 384.8,1947.9 384.8,2154.7 385.2,2066.7 385.2,1788.1 385.8,1944 385.8,2145.8 386.2,2096.1 386.2,1873.6 386.8,1798.3 386.8,2171.3 387.2,2172.5 387.2,1924.2 387.8,1927.8 387.8,2100.8 388.2,2145.2 388.2,1848.2 388.8,1709.8 388.8,2084.7 389.2,2186.7 389.2,1876.1 389.8,1931.5 389.8,2159.8 390.2,2055.5 390.2,1821.2 390.8,1931.9 390.8,2084.2 391.2,2163.7 391.2,1958.1 391.8,1901.4 391.8,2010.8 392.2,2124.2 392.2,1903.7 392.8,1850.4 392.8,2116.2 393.2,2170.6 393.2,2019.9 393.8,1890.1 393.8,2118.8 394.2,2126.7 394.2,1872.5 394.8,1988.6 394.8,2145.8 395.2,2154.2 395.2,1764.5 395.8,1918.7 395.8,2149.2 396.2,2154.9 396.2,1902 396.8,1909.6 396.8,2131.3 397.2,2172.6 397.2,1824.1 397.8,1687.6 397.8,2146.9 398.2,2087 398.2,1960.2 398.8,1873.1 398.8,2109.9 399.2,2150.9 399.2,1870.9 399.8,1909.1 399.8,2114.5 400.2,2168.4 400.2,1946.2 400.8,1896.3 400.8,2186.7 401.2,2163.2 401.2,2030.4 401.8,1797 401.8,2139.2 402.2,2185.9 402.2,1831.6 402.8,1976.6 402.8,2167.2 403.2,2094.9 403.2,1868.8 403.8,1817.8 403.8,2125 404.2,2142.4 404.2,1645.7 404.8,1967.6 404.8,2169.8 405.2,2157.4 405.2,2035.2 405.8,1881.9 405.8,2095.5 406.2,2152.9 406.2,1964 406.8,1913.6 406.8,2162.5 407.2,2144.9 407.2,1903.2 407.8,1847.2 407.8,2163.8 408.2,2123.3 408.2,1900.4 408.8,1855.8 408.8,2184 409.2,2156.2 409.2,1958.9 409.8,1883.6 409.8,2125.4 410.2,2139.8 410.2,1784.5 410.8,1870.7 410.8,2183.5 411.2,2136.7 411.2,1930.5 411.8,1749.5 411.8,2135.6 412.2,2120.4 412.2,1912.9 412.8,1816.8 412.8,2128.6 413.2,2123.2 413.2,1814.1 413.8,2044.6 413.8,2186.3 414.2,2138.5 414.2,1824.5 414.8,1836.7 414.8,2138.6 415.2,2098.8 415.2,1993.8 415.8,1676.7 415.8,2016.3 416.2,2090 416.2,1994.2 416.8,1886.7 416.8,2164.6 417.2,2134.5 417.2,1959.8 417.8,1968.9 417.8,2149.3 418.2,2159.9 418.2,1706.9 418.8,1914.3 418.8,2156.6 419.2,2133.1 419.2,1942.9 419.8,1845.8 419.8,2103 420.2,2073.2 420.2,1838.2 420.8,1919.1 420.8,2111.4 421.2,2148 421.2,1559.8 421.8,1790.2 421.8,2138.7 422.2,2175.5 422.2,1969.8 422.8,1807.6 422.8,2073 423.2,2178 423.2,1883.3 423.8,1837.8 423.8,2003.5 424.2,2115 424.2,1914.8 424.8,1788 424.8,2080.4 425.2,2170.8 425.2,1857.8 425.8,1874 425.8,2138.4 426.2,2054.9 426.2,1803.4 426.8,2002.6 426.8,2119.5 427.2,2069.4 427.2,1948.9 427.8,1755.8 427.8,2114.2 428.2,2129.3 428.2,1830.3 428.8,1890.4 428.8,2196.3 429.2,2159.3 429.2,1887.5 429.8,1980.2 429.8,2174.4 430.2,2124.9 430.2,1986.4 430.8,1759.4 430.8,2110.6 431.2,2063.2 431.2,1949.4 431.8,1766.8 431.8,2129.8 432.2,2178.5 432.2,1910.1 432.8,1965.2 432.8,2089.7 433.2,2181.8 433.2,1950.2 433.8,1818.1 433.8,2108.1 434.2,2129.8 434.2,1968.4 434.8,1882.4 434.8,2126.6 435.2,2145.3 435.2,1583.1 435.8,2038.3 435.8,2130.5 436.2,2122.5 436.2,1841.7 436.8,1883 436.8,2112.7 437.2,2182.8 437.2,1917.8 437.8,1876 437.8,2136.7 438.2,2058.3 438.2,1973.7 438.8,1952.3 438.8,2078.6 439.2,2185 439.2,1932.3 439.8,1736.7 439.8,2142.7 440.2,2069.1 440.2,1839.3 440.8,1832.6 440.8,2094.1 441.2,2080.4 441.2,1913.5 441.8,1881.3 441.8,2035.3 442.2,2110.1 442.2,1851.8 442.8,1819.3 442.8,2117.6 443.2,2158.9 443.2,1893.2 443.8,1992.6 443.8,2137.4 444.2,2134.4 444.2,1803.9 444.8,1862.8 444.8,2146 445.2,2082.7 445.2,1807.4 445.8,1834 445.8,2051.1 446.2,2092.1 446.2,1945.3 446.8,1850.5 446.8,2107.7 447.2,2132 447.2,1886.4 447.8,1869.3 447.8,2145 448.2,2099 448.2,1965.5 448.8,1946.7 448.8,2142.6 449.2,2155.5 449.2,2010.8 449.8,2018.7 449.8,2148.4 450.2,2157.4 450.2,1931 450.8,1873.6 450.8,2176.4 451.2,2133 451.2,1842 451.8,1898.6 451.8,2181.3 452.2,2080.7 452.2,1790.7 452.8,1900.4 452.8,2162 453.2,2153.1 453.2,1792.5 453.8,1970.7 453.8,2156.8 454.2,2103.6 454.2,1778.8 454.8,1803.4 454.8,2177 455.2,2161.3 455.2,1845.1 455.8,1953.1 455.8,2042 456.2,2080.3 456.2,1632.7 456.8,1803.9 456.8,2155.8 457.2,2122.6 457.2,1996.4 457.8,1939.4 457.8,2158.4 458.2,2177.9 458.2,1776.5 458.8,2008.2 458.8,2107.1 459.2,1973.6 459.2,1785.6 459.8,1954.9 459.8,2173.1 460.2,2139.4 460.2,1890.1 460.8,1867.2 460.8,2147.2 461.2,2090.7 461.2,1922.7 461.8,2044.5 461.8,2130.2 462.2,2119.2 462.2,1851.1 462.8,1898.7 462.8,2076 463.2,2164.2 463.2,1951.8 463.8,1942 463.8,2099 464.2,2105.9 464.2,1949.5 464.8,1990.3 464.8,2140.2 465.2,2177.4 465.2,1945 465.8,1862 465.8,2080.4 466.2,2051.8 466.2,1805 466.8,1959.2 466.8,2128.5 467.2,2187.7 467.2,1857.8 467.8,1962 467.8,2151.8 468.2,2161.5 468.2,1854.4 468.8,1895.5 468.8,2102.2 469.2,2177.4 469.2,1848.4 469.8,1889.6 469.8,2132 470.2,2130 470.2,1977.8 470.8,1884.1 470.8,2142.9 471.2,2119.2 471.2,1994.8 471.8,1809.9 471.8,2130.9 472.2,2144.5 472.2,1826.9 472.8,1922.9 472.8,2066 473.2,2165 473.2,1949.5 473.8,1839.1 473.8,2173.2 474.2,2143.3 474.2,1751.7 474.8,1804.1 474.8,2139 475.2,2139.2 475.2,1944.2 475.8,1926.8 475.8,2190.1 476.2,2157.7 476.2,1819 476.8,1795.7 476.8,2129.4 477.2,2141.7 477.2,1856.2 477.8,1914.1 477.8,2145.5 478.2,2092.1 478.2,1945 478.8,1900.7 478.8,2135.1 479.2,2111.7 479.2,1831.8 479.8,1748.5 479.8,2128.3 480.2,2168 480.2,1991.5 480.8,1861.1 480.8,2131.1 481.2,2115.6 481.2,1779.1 481.8,1836.3 481.8,2162 482.2,2131.6 482.2,1935.8 482.8,1894.6 482.8,2109 483.2,2194.7 483.2,1638 483.8,1814.2 483.8,2158.9 484.2,2150.5 484.2,1860.7 484.8,1847.5 484.8,2162.2 485.2,2073 485.2,1916.2 485.8,1955.1 485.8,2132 486.2,2087.9 486.2,1890.5 486.8,1792.4 486.8,2126.5 487.2,2103.2 487.2,1943.2 487.8,1813.1 487.8,2152.1 488.2,2121.6 488.2,2009.9 488.8,1862 488.8,2092.9 489.2,2068.7 489.2,1904.4 489.8,1708.9 489.8,2154.3 490.2,2190.2 490.2,1983.6 490.8,1880.5 490.8,2189.9 491.2,2119.4 491.2,2048.2 491.8,1998 491.8,2167.5 492.2,2059.3 492.2,1693.6 492.8,2026.2 492.8,2168 493.2,2089.8 493.2,1906.2 493.8,1946.6 493.8,2142 494.2,2113.8 494.2,1810.5 494.8,1948.2 494.8,2118.2 495.2,2174.7 495.2,1877.8 495.8,1854.1 495.8,2166.4 496.2,2139.4 496.2,1886.9 496.8,1911.1 496.8,2099.6 497.2,2083.2 497.2,1869 497.8,1866.7 497.8,2092.5 498.2,2172.5 498.2,2068.8 498.8,1813.4 498.8,2167.7 499.2,2069.7 499.2,1881.4 499.8,1930.5 499.8,2126.3 500.2,2126.2 500.2,1878.7 500.8,1813.4 500.8,2125.6 501.2,2169.1 501.2,1900 501.8,1938 501.8,2193.8 502.2,2114.7 502.2,1975.6 502.8,1918.4 502.8,2118.5 503.2,2068.3 503.2,1757.6 503.8,1786.2 503.8,2166.4 504.2,2154.2 504.2,1924.6 504.8,1949 504.8,2075.5 505.2,2096.8 505.2,1940.9 505.8,1983.4 505.8,2149.6 506.2,2156.5 506.2,1823.1 506.8,1962.4 506.8,2166.8 507.2,2105.1 507.2,1884.4 507.8,1799.3 507.8,2112.4 508.2,2151.3 508.2,1923.2 508.8,1962 508.8,2106.8 509.2,2051.6 509.2,1851.4 509.8,1990.7 509.8,2109.6 510.2,2146.2 510.2,1918.8 510.8,1798.9 510.8,2142.1 511.2,2033.5 511.2,1807.8 511.8,1839.4 511.8,2150.9 512.2,2029.5 512.2,1778.8 512.8,2010.2 512.8,2157.9 513.2,2146.6 513.2,1820 513.8,1888 513.8,2138 514.2,2187.5 514.2,2019.7 514.8,1884.8 514.8,2119.4 515.2,2135.8 515.2,1898.6 515.8,1916.9 515.8,2106 516.2,2123 516.2,1940.6 516.8,1906 516.8,2085.3 517.2,2065.1 517.2,1820.9 517.8,1874.5 517.8,2066.3 518.2,2076.5 518.2,1873.1 518.8,1874.7 518.8,2139.8 519.2,2093.7 519.2,1742.5 519.8,1893.7 519.8,2100.8 520.2,2112.5 520.2,1969.8 520.8,1799.5 520.8,2146.2 521.2,2157.8 521.2,1919 521.8,1927 521.8,2110.7 522.2,2133.9 522.2,1821.8 522.8,1973.9 522.8,2145.2 523.2,2119.5 523.2,1966.9 523.8,1893.9 523.8,2159.2 524.2,2143.4 524.2,1896.6 524.8,1818.8 524.8,2143.3 525.2,2112.5 525.2,1888.1 525.8,1918.6 525.8,2036.5 526.2,2134.5 526.2,1864 526.8,1768.4 526.8,2118.8 527.2,2189.6 527.2,1862.6 527.8,1939.6 527.8,2103.3 528.2,2167 528.2,1796.2 528.8,1955 528.8,2133.6 529.2,2091.6 529.2,1919 529.8,1853.2 529.8,2103.5 530.2,2121.5 530.2,1913 530.8,1953.8 530.8,2121.2 531.2,2123 531.2,1937.6 531.8,1746.9 531.8,2173.2 532.2,2086.5 532.2,1880.7 532.8,1958.1 532.8,2111.1 533.2,2125.6 533.2,1820.9 533.8,1668.7 533.8,2139.3 534.2,2090.4 534.2,1948.8 534.8,1932.8 534.8,2151.5 535.2,2156.9 535.2,1971.8 535.8,1876 535.8,2075.9 536.2,2188.8 536.2,1782.1 536.8,1880.7 536.8,2137.5 537.2,2039.1 537.2,1849.5 537.8,1812.1 537.8,2098.9 538.2,2068.7 538.2,1946.4 538.8,1902.2 538.8,2152.9 539.2,2128 539.2,1838.8 539.8,1832.5 539.8,2136.3 540.2,2167.7 540.2,1928.9 540.8,1937.3 540.8,2126.5 541.2,2142.2 541.2,1900.2 541.8,1767.2 541.8,2072.5 542.2,2173.2 542.2,1948.5 542.8,1911 542.8,2151.1 543.2,2160.6 543.2,1832.7 543.8,1827.2 543.8,2083 544.2,2045.1 544.2,1793.9 544.8,1957.3 544.8,2137.9 545.2,2061.9 545.2,1943.6 545.8,1902.9 545.8,2103.3 546.2,2175.9 546.2,1913.5 546.8,1838.3 546.8,2151.7 547.2,2088.9 547.2,1835 547.8,1811.2 547.8,2104.4 548.2,2114.6 548.2,1880.6 548.8,1986.6 548.8,2184.9 549.2,2149 549.2,1925 549.8,2005.7 549.8,2092.7 550.2,2123.7 550.2,1877.3 550.8,1842.7 550.8,2123.8 551.2,2149.4 551.2,1782.3 551.8,1946.1 551.8,2130.2 552.2,2145.4 552.2,1839.5 552.8,1874 552.8,2162.5 553.2,2089.3 553.2,1923.2 553.8,1926 553.8,2107.2 554.2,2196.1 554.2,1930.5 554.8,1971.8 554.8,2158.4 555.2,2195.1 555.2,1896.3 555.8,1822.6 555.8,2077.6 556.2,2063.2 556.2,1697.7 556.8,1876.5 556.8,2022.1 557.2,2193 557.2,1969.3 557.8,1791.2 557.8,1990 558.2,2089.9 558.2,1778.3 558.8,1977.6 558.8,2170.1 559.2,2178.4 559.2,1772.3 559.8,1830.9 559.8,2029.8 560.2,2125.5 560.2,1884 560.8,1839.5 560.8,2153.2 561.2,2132.8 561.2,1955.3 561.8,1940 561.8,2148.2 562.2,2125.9 562.2,1871.6 562.8,1749.8 562.8,2154 563.2,2129.2 563.2,1886.8 563.8,1865.7 563.8,2102.5 564.2,2192.1 564.2,1938 564.8,1974.2 564.8,2175.6 565.2,2133.2 565.2,1553.8 565.8,1939.3 565.8,2131.4 566.2,2130.9 566.2,1775.3 566.8,1939.3 566.8,2183.1 567.2,2122.4 567.2,1866.4 567.8,1851.3 567.8,2067.2 568.2,2090.1 568.2,1982.9 568.8,1890.1 568.8,2138.9 569.2,2147.7 569.2,1672.8 569.8,2002.6 569.8,2153.4 570.2,2107.3 570.2,1871.7 570.8,1975.3 570.8,2110.2 571.2,2109.9 571.2,1921.6 571.8,1981.6 571.8,2057.2 572.2,2197.4 572.2,1925.4 572.8,1772.9 572.8,2088.1 573.2,2106 573.2,1869.6 573.8,1835.7 573.8,2103 574.2,2143.1 574.2,1864 574.8,1875.8 574.8,2088.2 575.2,2169.4 575.2,1812.6 575.8,1882 575.8,2069.4 576.2,2125 576.2,1864.5 576.8,1956 576.8,2113.8 577.2,2117.9 577.2,1748.5 577.8,1886.2 577.8,2099.7 578.2,2181 578.2,1906.2 578.8,1980.5 578.8,2140.9 579.2,2133.2 579.2,1942.5 579.8,1981.2 579.8,2143.3 580.2,2158 580.2,1772.5 580.8,1942 580.8,2146.1 581.2,2101.2 581.2,1872.2 581.8,1934.2 581.8,2107.5 582.2,2151.4 582.2,1800.4 582.8,1944.8 582.8,2172.1 583.2,2187.4 583.2,1887.2 583.8,1825.9 583.8,2175.2 584.2,2031.1 584.2,1829.1 584.8,1843.3 584.8,2057.3 585.2,2175.5 585.2,1894.4 585.8,1785.6 585.8,2095.2 586.2,2059.1 586.2,1821 586.8,1842.8 586.8,2098.7 587.2,2176.4 587.2,1998.9 587.8,1784.1 587.8,2183.5 588.2,2115.8 588.2,1904 588.8,1861.3 588.8,2144.3 589.2,2112.3 589.2,1855.8 589.8,1722.7 589.8,2122.4 590.2,2146.3 590.2,1935.2 590.8,1900.4 590.8,2167.6 591.2,2087 591.2,1778.1 591.8,1937 591.8,2117.3 592.2,2029.5 592.2,1852 592.8,2008.5 592.8,2114.8 593.2,2159.6 593.2,1942.4 593.8,1810.8 593.8,2090.7 594.2,2134.5 594.2,2002.1 594.8,1811.9 594.8,2117.1 595.2,2138.9 595.2,1961.6 595.8,1785.8 595.8,2161.1 596.2,2094.3 596.2,1946.4 596.8,1873.1 596.8,2114.4 597.2,2073.4 597.2,1937.8 597.8,1913.9 597.8,2185.8 598.2,2117.6 598.2,1833.3 598.8,1936.8 598.8,2148.1 599.2,2178.5 599.2,1798.7 599.8,2001.7 599.8,2122.5 600.2,2101.8 600.2,1966.9 600.8,1953.3 600.8,2170.5 601.2,2064.6 601.2,1958.9 601.8,1921.6 601.8,2193.1 602.2,2165.6 602.2,2043.6 602.8,1914.3 602.8,2135.7 603.2,2113.3 603.2,1880.1 603.8,1773.3 603.8,2170 604.2,2188 604.2,1800.8 604.8,1775.9 604.8,2101.1 605.2,2164 605.2,1883.6 605.8,1875.4 605.8,2090.4 606.2,2157.3 606.2,1965.6 606.8,1803.8 606.8,2193.1 607.2,2074.7 607.2,1887 607.8,1933 607.8,2083.7 608.2,2165.7 608.2,1725.8 608.8,1839.4 608.8,2168.9 609.2,2121.1 609.2,1800.8 609.8,1884.6 609.8,2147.8 610.2,2168.3 610.2,1832.9 610.8,1874.4 610.8,2173.3 611.2,2151.4 611.2,1764.2 611.8,1709.8 611.8,2169.9 612.2,2176.8 612.2,1866.3 612.8,1801 612.8,2031.4 613.2,2172.1 613.2,1688.8 613.8,1972.3 613.8,2129.4 614.2,2085.2 614.2,1970.1 614.8,1948.9 614.8,2123.6 615.2,2076.2 615.2,1977.3 615.8,1807.8 615.8,2151.1 616.2,2131.7 616.2,1897.8 616.8,1801.9 616.8,2144.6 617.2,2156.4 617.2,1888.7 617.8,1976.2 617.8,2144.6 618.2,2146.6 618.2,1933.2 618.8,1767.2 618.8,2194.1 619.2,2073.9 619.2,1824.3 619.8,1841.6 619.8,2102.2 620.2,2136.8 620.2,1862.4 620.8,1914.2 620.8,2123.6 621.2,2141.6 621.2,1881 621.8,1665.8 621.8,2108.6 622.2,2100.6 622.2,1817.9 622.8,2008.6 622.8,2161.6 623.2,2139 623.2,1852 623.8,1909.4 623.8,2078.7 624.2,2168 624.2,1851.4 624.8,2021.9 624.8,2145 625.2,2169.1 625.2,1905.2 625.8,1861.4 625.8,2108.6 626.2,2055.3 626.2,1948.9 626.8,1850.3 626.8,2135.2 627.2,2114.7 627.2,1892.2 627.8,1780.2 627.8,2084 628.2,2059 628.2,1829.4 628.8,1760.8 628.8,2199.3 629.2,2112.9 629.2,1809.6 629.8,1746.6 629.8,2142.5 630.2,2116 630.2,1821.2 630.8,1854.2 630.8,2082.8 631.2,2092.7 631.2,1856.9 631.8,1883.5 631.8,2134.7 632.2,2150.1 632.2,1868.6 632.8,1938.8 632.8,2073.1 633.2,2130.6 633.2,1927 633.8,1786.5 633.8,2115.1 634.2,2164.4 634.2,1776.5 634.8,1783.5 634.8,2057.3 635.2,2092.8 635.2,1915.2 635.8,1874 635.8,2178.4 636.2,2134.9 636.2,1926.3 636.8,1757.7 636.8,2169.4 637.2,2135 637.2,1890.3 637.8,1913.6 637.8,2145.8 638.2,2091.5 638.2,1865.4 638.8,1834.3 638.8,2153.9 639.2,2112.9 639.2,1882.3 639.8,1955.3 639.8,2166.1 640.2,2049 640.2,1680.8 640.8,1893.4 640.8,2173.5 641.2,2144.9 641.2,1795.9 641.8,1880.5 641.8,2122.2 642.2,2070.7 642.2,1860.2 642.8,1839.2 642.8,2156.9 643.2,2160.6 643.2,1880.2 643.8,2021.8 643.8,2148.3 644.2,2092.7 644.2,1775.1 644.8,1905.2 644.8,2058.1 645.2,2060.4 645.2,1955.7 645.8,1812.8 645.8,2076.5 646.2,2195.4 646.2,1913.9 646.8,1939.6 646.8,2164.9 647.2,2130.8 647.2,1937.1 647.8,1809.3 647.8,2144.6 648.2,2176.1 648.2,1957 648.8,1747.6 648.8,2161 649.2,2059.7 649.2,1831.6 649.8,1886 649.8,2172.5 650.2,2130.8 650.2,1930.5 650.8,1876.5 650.8,2040.8 651.2,2106 651.2,1880.1 651.8,1831 651.8,2152.7 652.2,2132.6 652.2,1819.4 652.8,1858.7 652.8,2188.2 653.2,2125.6 653.2,1883.9 653.8,1886.2 653.8,2170.8 654.2,2146.3 654.2,1903 654.8,1747.6 654.8,2132 655.2,2041.8 655.2,1924.9 655.8,2006.3 655.8,2155 656.2,2172.7 656.2,1894.6 656.8,1935.5 656.8,2073.6 657.2,2085.7 657.2,1770.1 657.8,1884.8 657.8,2170.7 658.2,2050 658.2,1826.7 658.8,1870.2 658.8,2142.9 659.2,2100.9 659.2,1925.4 659.8,1872.7 659.8,2079.4 660.2,2109.9 660.2,1880.9 660.8,1824 660.8,2107.8 661.2,2108.8 661.2,1704.8 661.8,1866.2 661.8,2166.3 662.2,2185.2 662.2,1888.3 662.8,1721.5 662.8,2113.2 663.2,2128.2 663.2,1874.4 663.8,1944.3 663.8,2125.6 664.2,2181.3 664.2,1939.3 664.8,1766.3 664.8,2153 665.2,2105.7 665.2,1866.6 665.8,1880.1 665.8,2173.9 666.2,2157.3 666.2,1931.4 666.8,1817.9 666.8,2128.8 667.2,2028.9 667.2,1900.2 667.8,1801.7 667.8,2171.5 668.2,2120.4 668.2,1922.1 668.8,1903.7 668.8,2132.3 669.2,2081.5 669.2,1832.9 669.8,1817.6 669.8,2193.3 670.2,2152.5 670.2,1969.2 670.8,1895 670.8,2135.8 671.2,2151.7 671.2,1934.7 671.8,1854.5 671.8,2121.6 672.2,2120.5 672.2,1911.9 672.8,1838.1 672.8,2143.2 673.2,2169.7 673.2,1956 673.8,1694.8 673.8,2168.9 674.2,2118.6 674.2,1867.8 674.8,1856.5 674.8,2184.9 675.2,2112.5 675.2,1852.8 675.8,1980.5 675.8,2188.7 676.2,2093.5 676.2,1854.8 676.8,1872.5 676.8,2076.6 677.2,2135.3 677.2,1896.3 677.8,1796.8 677.8,2158.4 678.2,2130.2 678.2,1989 678.8,1898 678.8,2116.3 679.2,2176.8 679.2,1950.1 679.8,1739.6 679.8,2075.3 680.2,2133.5 680.2,1925.2 680.8,1835.1 680.8,2198 681.2,2160.2 681.2,2022.9 681.8,1924.8 681.8,2131.1 682.2,2172 682.2,1620.8 682.8,1910.5 682.8,2190 683.2,2121.1 683.2,1920 683.8,1849.9 683.8,2054.2 684.2,2179.9 684.2,1903.2 684.8,1830.3 684.8,2065.5 685.2,2138.4 685.2,1821.3 685.8,2039.8 685.8,2166.4 686.2,2181.4 686.2,1896.9 686.8,1916.5 686.8,2071.8 687.2,2167.9 687.2,1924.5 687.8,1936.1 687.8,2109.3 688.2,2113.5 688.2,1953.2 688.8,1815.6 688.8,2129.7 689.2,2118.6 689.2,1754.6 689.8,1868 689.8,2142.1 690.2,2091.4 690.2,1768.2 690.8,1938 690.8,2142.5 691.2,2121.4 691.2,1853.1 691.8,1880.7 691.8,2109.3 692.2,2122.9 692.2,1755.9 692.8,1821.6 692.8,2033.7 693.2,2140.6 693.2,1867.7 693.8,1931.8 693.8,2158.2 694.2,2119.1 694.2,1956.4 694.8,1796.5 694.8,2117.4 695.2,2122.7 695.2,1877.6 695.8,1841 695.8,2079.6 696.2,2192.8 696.2,1886.6 696.8,1765.2 696.8,2153.2 697.2,2163.3 697.2,1822.7 697.8,1927.2 697.8,2095.3 698.2,2143.2 698.2,1890 698.8,1948 698.8,2112.7 699.2,2118.3 699.2,1922.6 699.8,1851.9 699.8,2163.4 700.2,2158.2 700.2,1944.9 700.8,1702.6 700.8,2148.2 701.2,2183.8 701.2,2001.1 701.8,1817.6 701.8,2185.8 702.2,2114.2 702.2,1956.8 702.8,1829.7 702.8,2138.8 703.2,2105.4 703.2,1909.3 703.8,1874.7 703.8,2154.5 704.2,2096.7 704.2,1802.3 704.8,1732.6 704.8,2171.7 705.2,2079.8 705.2,1862.4 705.8,1848.7 705.8,2180.6 706.2,2130.7 706.2,1850.1 706.8,1955.1 706.8,2119.5 707.2,2164.1 707.2,1913.8 707.8,1998.4 707.8,2144.2 708.2,2148.7 708.2,1857.3 708.8,1849 708.8,2022 709.2,2080.2 709.2,1700.6 709.8,1879.7 709.8,2104.2 710.2,2174.3 710.2,1866.4 710.8,1993.4 710.8,2147.5 711.2,2057.8 711.2,1834.9 711.8,1866.5 711.8,2106 712.2,2133.7 712.2,1848.6 712.8,1876.7 712.8,2096.1 713.2,2166.8 713.2,1949 713.8,1853.1 713.8,2100 714.2,2102.1 714.2,1918.8 714.8,1842.2 714.8,2102.8 715.2,2118.7 715.2,1951 715.8,1861.4 715.8,2136.9 716.2,2137.5 716.2,1904.6 716.8,1856 716.8,2123.5 717.2,2068.6 717.2,1634.6 717.8,1937.8 717.8,2087.8 718.2,2092.2 718.2,1826.3 718.8,1905 718.8,2162.5 719.2,2166.4 719.2,1839.1 719.8,1814 719.8,2139.6 720.2,2183.1 720.2,1898.5 720.8,1926.6 720.8,2139.2 721.2,2108.8 721.2,1869.8 721.8,1868.7 721.8,2087.2 722.2,2101.5 722.2,2029.3 722.8,1965.1 722.8,2166.9 723.2,2122.6 723.2,1940.1 723.8,1712.7 723.8,2178.7 724.2,2128.5 724.2,1768.2 724.8,2005.5 724.8,2200.8 725.2,2145 725.2,1970.4 725.8,1823.5 725.8,2059.5 726.2,2152.6 726.2,1949.4 726.8,1925.2 726.8,2055.3 727.2,2146.9 727.2,1975.9 727.8,1860.3 727.8,2143.6 728.2,2092.4 728.2,1849.9 728.8,1805.4 728.8,2195 729.2,2160 729.2,1605.6 729.8,1836.8 729.8,2140.6 730.2,2073.3 730.2,1920.4 730.8,1878.3 730.8,2127.5 731.2,2112.9 731.2,1911.9 731.8,1954 731.8,2059.1 732.2,2147.7 732.2,1861.5 732.8,2011.1 732.8,2189.6 733.2,2160.2 733.2,1895.1 733.8,1974.8 733.8,2124.6 734.2,2149.8 734.2,1906 734.8,1898.2 734.8,2116.2 735.2,2125.6 735.2,1701.6 735.8,1841.2 735.8,2140.7 736.2,2119.7 736.2,1903.4 736.8,1960.9 736.8,2116.3 737.2,2196.3 737.2,1918.8 737.8,1950.1 737.8,2121 738.2,2111.4 738.2,1825.3 738.8,1921.2 738.8,2071.9 739.2,2137.5 739.2,1812.5 739.8,1924.3 739.8,2130.5 740.2,2121.5 740.2,1825.7 740.8,1898.6 740.8,2143.7 741.2,2143.4 741.2,1664.8 741.8,1856.9 741.8,2162.4 742.2,2073.6 742.2,1851.6 742.8,2011.2 742.8,2140.3 743.2,2150.1 743.2,1756.2 743.8,1852.6 743.8,2103.6 744.2,2072.9 744.2,1846.3 744.8,1758.2 744.8,2119.2 745.2,2145.2 745.2,1853.7 745.8,1933.7 745.8,2148.1 746.2,2202.2 746.2,1872.2 746.8,1896.1 746.8,2156.8 747.2,2096.5 747.2,1958.5 747.8,1819.7 747.8,2043.9 748.2,2152.5 748.2,1874.9 748.8,1904 748.8,2146.5 749.2,2129.9 749.2,1852.6 749.8,1974.2 749.8,2125.6 750.2,2082 750.2,1923.8 750.8,1794 750.8,2190.9 751.2,2060 751.2,1868.1 751.8,1919.5 751.8,2122 752.2,2050 752.2,1943.8 752.8,1787.7 752.8,2156.6 753.2,2192.5 753.2,1817.4 753.8,1962.7 753.8,2134.4 754.2,2026.4 754.2,1895.5 754.8,1922 754.8,2152.2 755.2,2163.2 755.2,1726.8 755.8,1963.1 755.8,2158.9 756.2,2136.7 756.2,1854.8 756.8,1879.1 756.8,2120 757.2,2095 757.2,1968.6 757.8,1834.3 757.8,2188.2 758.2,2044.5 758.2,1850.3 758.8,1893.5 758.8,2124 759.2,2150.3 759.2,1866.3 759.8,1887.3 759.8,2167.3 760.2,2061.2 760.2,1867.2 760.8,1956 760.8,2068.1 761.2,2092.3 761.2,1786.1 761.8,1870.6 761.8,2097.5 762.2,2177.9 762.2,1656.9 762.8,1980.6 762.8,2141.3 763.2,2096.7 763.2,1942.4 763.8,1852.3 763.8,2158.3 764.2,2139.7 764.2,1918.5 764.8,1707.7 764.8,2153.2 765.2,2146.5 765.2,1756.7 765.8,1774.9 765.8,2025.6 766.2,2108.3 766.2,1882.2 766.8,1884.7 766.8,2168.3 767.2,2152 767.2,1897.6 767.8,1974.3 767.8,2096.2 768.2,2148 768.2,1710.8 768.8,1782.7 768.8,2159.5 769.2,2083.6 769.2,1875.5 769.8,1995.4 769.8,2177.2 770.2,2134.5 770.2,1865.3 770.8,1913.6 770.8,2153.5 771.2,2180.8 771.2,1780.1 771.8,1902.4 771.8,2126.1 772.2,2075.9 772.2,1845.4 772.8,2017.1 772.8,2131.4 773.2,2156.6 773.2,1892.4 773.8,1977.3 773.8,2133.5 774.2,2143.7 774.2,1867.5 774.8,1853.4 774.8,2109.4 775.2,2092.5 775.2,1806.4 775.8,1892.3 775.8,2144.5 776.2,2071 776.2,1862.6 776.8,1804.1 776.8,2142 777.2,2147.4 777.2,1796.8 777.8,2066.6 777.8,2120.7 778.2,2143.4 778.2,1934.9 778.8,1845 778.8,2159.2 779.2,2164.9 779.2,1902 779.8,1685.6 779.8,2096.4 780.2,2096.6 780.2,1798.3 780.8,1898.1 780.8,2136.1 781.2,2113.9 781.2,1906.3 781.8,1837.1 781.8,2061.2 782.2,2141.8 782.2,1837.9 782.8,1760.8 782.8,2141.2 783.2,2187.9 783.2,1965.8 783.8,1968.9 783.8,2014.9 784.2,2162.5 784.2,1977.7 784.8,1917 784.8,2058.2 785.2,2034.7 785.2,1905.9 785.8,1848.5 785.8,2107 786.2,2182.6 786.2,1891.6 786.8,1754.6 786.8,2193.6 787.2,2137.2 787.2,1780.5 787.8,1774.8 787.8,2167.4 788.2,2153.9 788.2,1759.5 788.8,1834.5 788.8,2113.9 789.2,2112.2 789.2,1935.3 789.8,1781.5 789.8,2052.4 790.2,2047.5 790.2,1768.9 790.8,1796.1 790.8,2056.2 791.2,2091.4 791.2,1674.8 791.8,1993.2 791.8,2154.3 792.2,2078.5 792.2,1891.6 792.8,1825.3 792.8,2109.5 793.2,2123.8 793.2,1771.5 793.8,1861.7 793.8,2051.2 794.2,2093.4 794.2,1918.4 794.8,1848.2 794.8,2112.5 795.2,2160.9 795.2,1820.9 795.8,1850.4 795.8,2057.6 796.2,2163 796.2,1936.3 796.8,2070.1 796.8,2102.4 797.2,2126.3 797.2,1783.4 797.8,1904.4 797.8,2152.5 798.2,2174.8 798.2,1948 798.8,1856.5 798.8,2148.8 799.2,2148.7 799.2,1860.7 799.8,1908.9 799.8,2095.5 800.2,2125 800.2,1802.3 800.8,1787.1 800.8,2058.3 801.2,2102.2 801.2,1714.7 801.8,1987.9 801.8,2140.4 802.2,2079.9 802.2,1835.8 802.8,1979.8 802.8,2131.6 803.2,2150.5 803.2,1886.2 803.8,1886.5 803.8,2121.4 804.2,2127.6 804.2,1937.2 804.8,1901.9 804.8,2178.6 805.2,2122.9 805.2,1728.7 805.8,1915.6 805.8,2105.1 806.2,2137.9 806.2,1885.9 806.8,2012.5 806.8,2168.6 807.2,2120.2 807.2,1870.3 807.8,1834.6 807.8,2128.7 808.2,2104.2 808.2,1811.7 808.8,1680.3 808.8,2178.2 809.2,2079.6 809.2,1929.6 809.8,1979.2 809.8,2135.4 810.2,2137.6 810.2,1653.7 810.8,1777 810.8,2099.2 811.2,2185.8 811.2,1808 811.8,1906.5 811.8,2166.8 812.2,2137.3 812.2,1797.9 812.8,1845 812.8,2091.5 813.2,2201.7 813.2,1921.9 813.8,1818.9 813.8,2062.4 814.2,2065.2 814.2,1842.3 814.8,1824.3 814.8,2156.8 815.2,2176.7 815.2,1731.9 815.8,1901.5 815.8,2102.7 816.2,2113.2 816.2,1839.1 816.8,2005.9 816.8,2191.2 817.2,2122.8 817.2,1756.3 817.8,1979 817.8,2166.1 818.2,2181.7 818.2,1954 818.8,1942.7 818.8,2168.2 819.2,2063.8 819.2,1781.3 819.8,1890 819.8,2052 820.2,2014.6 820.2,1861.4 820.8,1881.6 820.8,2066.8 821.2,2156.5 821.2,1858.2 821.8,1814.1 821.8,2152.1 822.2,2064 822.2,1849.9 822.8,1927.3 822.8,2123.8 823.2,2034.3 823.2,1702.6 823.8,1892.1 823.8,2158.6 824.2,2094.1 824.2,1916.9 824.8,2062.2 824.8,2116.9 825.2,2110.7 825.2,1917.9 825.8,1838.1 825.8,2139.8 826.2,2155 826.2,1870.1 826.8,1933.7 826.8,2194.4 827.2,2107.8 827.2,1780.9 827.8,1869.4 827.8,2109.1 828.2,2135 828.2,1775.8 828.8,1777.9 828.8,2149.4 829.2,2175.1 829.2,1868.6 829.8,1954.1 829.8,2052.9 830.2,2119.9 830.2,1972.6 830.8,1807.7 830.8,2168.4 831.2,2113.6 831.2,1958.2 831.8,1944.3 831.8,2133.3 832.2,2200.4 832.2,1768.2 832.8,1869.7 832.8,2148.3 833.2,2108.6 833.2,1905.4 833.8,1877.1 833.8,2141.4 834.2,2157.5 834.2,1844.3 834.8,1936.3 834.8,2103.5 835.2,2148.5 835.2,1982.3 835.8,1909.3 835.8,2186.8 836.2,2063.3 836.2,1783.8 836.8,1931.4 836.8,2119.6 837.2,2076.8 837.2,1727.5 837.8,1854.4 837.8,2155.9 838.2,2119.6 838.2,1953.5 838.8,1828.7 838.8,2136.9 839.2,2156.7 839.2,1860.3 839.8,1820.7 839.8,2088.1 840.2,2097.9 840.2,1878.3 840.8,1955.8 840.8,2131.7 841.2,2158.5 841.2,1720.7 841.8,1841.3 841.8,2128 842.2,2096.8 842.2,1868.9 842.8,1952.4 842.8,2179.2 843.2,2137.4 843.2,1871.3 843.8,1830.7 843.8,2121.4 844.2,2161.1 844.2,1928.2 844.8,1950.1 844.8,2160.8 845.2,2167.6 845.2,1924.7 845.8,1964 845.8,2152.7 846.2,2128 846.2,1892.1 846.8,1846.8 846.8,2129.2 847.2,2159.2 847.2,1978.1 847.8,1868.3 847.8,2129.2 848.2,2171 848.2,1867.1 848.8,1730.6 848.8,2130 849.2,2142.3 849.2,1799.2 849.8,1795.5 849.8,2118.6 850.2,2121.6 850.2,1973.7 850.8,1877.7 850.8,2113.1 851.2,2173.2 851.2,1812.3 851.8,1863.2 851.8,2168 852.2,2134.2 852.2,1983.6 852.8,1920.9 852.8,2155.5 853.2,2084.2 853.2,1913.1 853.8,1874.4 853.8,2173 854.2,2090.7 854.2,1956.6 854.8,1886.2 854.8,2094.9 855.2,2140.5 855.2,1891.8 855.8,1906.7 855.8,2148.2 856.2,2174.9 856.2,1953.3 856.8,1881.9 856.8,2099.4 857.2,2177.5 857.2,1958.1 857.8,1870.1 857.8,2128.1 858.2,2141.9 858.2,1905.5 858.8,1883.6 858.8,2120.1 859.2,2142.1 859.2,1830.3 859.8,1876.7 859.8,2069.3 860.2,2064.8 860.2,1835.1 860.8,1815.3 860.8,2133.8 861.2,2086.7 861.2,1773.8 861.8,1760.9 861.8,2164.4 862.2,2149.7 862.2,1840.2 862.8,1812.6 862.8,2121.1 863.2,2123.1 863.2,1866.1 863.8,1692.7 863.8,2166.1 864.2,2149 864.2,1963 864.8,1968.8 864.8,2113.5 865.2,2166.8 865.2,1918.6 865.8,1791.5 865.8,2163.6 866.2,2174.7 866.2,1803.4 866.8,1830.9 866.8,2186.1 867.2,2151.2 867.2,1806 867.8,1848.7 867.8,2092.9 868.2,2153.7 868.2,1925.9 868.8,1776.4 868.8,2160.7 869.2,2168.7 869.2,1898 869.8,1848.4 869.8,2137.6 870.2,2170.5 870.2,1910.8 870.8,1764.5 870.8,2134.2 871.2,2133.5 871.2,2001.8 871.8,1852.3 871.8,2143.3 872.2,2177.3 872.2,1871.5 872.8,1872.6 872.8,2135.3 873.2,2120.7 873.2,1953.1 873.8,1807.9 873.8,2145 874.2,2147.9 874.2,1757.7 874.8,1896.6 874.8,2097.2 875.2,2105.5 875.2,1970.2 875.8,1867.6 875.8,2135.1 876.2,2128.4 876.2,1952.5 876.8,1871.9 876.8,2174 877.2,2144.6 877.2,1862.3 877.8,1807.8 877.8,2138.1 878.2,2057.4 878.2,1958.2 878.8,1872.4 878.8,2071.3 879.2,2064.9 879.2,1858.9 879.8,1839.5 879.8,2142.7 880.2,2134.9 880.2,1756.5 880.8,1973.1 880.8,2127.7 881.2,2054.4 881.2,1883.8 881.8,1890.6 881.8,2152.1 882.2,2145.1 882.2,1723.6 882.8,1798.1 882.8,2081.9 883.2,2132.6 883.2,1895.8 883.8,1833.2 883.8,2099 884.2,2045 884.2,1843.7 884.8,1935.7 884.8,2107.5 885.2,2098.6 885.2,1899.6 885.8,1857 885.8,2123.5 886.2,2168.7 886.2,1895.6 886.8,1907.1 886.8,2090.2 887.2,2123.3 887.2,1929.8 887.8,1891.1 887.8,2134.8 888.2,2186.8 888.2,1700.6 888.8,1827 888.8,2121.7 889.2,2125.4 889.2,1861.7 889.8,1766.7 889.8,2092.6 890.2,2159.5 890.2,1786.6 890.8,1935.8 890.8,2096.2 891.2,2117 891.2,1838.5 891.8,1871.8 891.8,2148.8 892.2,2046.3 892.2,1805.6 892.8,1920.7 892.8,2083.5 893.2,2057.1 893.2,1941.7 893.8,2005.7 893.8,2124.2 894.2,2107.5 894.2,1835.3 894.8,1947.1 894.8,2181.9 895.2,2107.6 895.2,1891.9 895.8,1838.9 895.8,2116.9 896.2,2087.3 896.2,1935.9 896.8,1915.5 896.8,2154.7 897.2,2177.6 897.2,1912.8 897.8,1869.4 897.8,2113.8 898.2,2131.2 898.2,1700.6 898.8,1918.5 898.8,2118.1 899.2,2068.2 899.2,1841.3 899.8,1934.3 899.8,2144.7 900.2,2176.2 900.2,1928.5 900.8,1724.6 900.8,2120.9 901.2,2057.8 901.2,1931.7 901.8,1887.3 901.8,2164.5 902.2,2067.8 902.2,1834.6 902.8,1931.8 902.8,2174.1 903.2,2147.3 903.2,1865.4 903.8,1823.6 903.8,2095.9 904.2,2111.1 904.2,1999.9 904.8,1861.8 904.8,2084.6 905.2,2148.2 905.2,1969.1 905.8,1870.7 905.8,2117.7 906.2,2114.1 906.2,1723.6 906.8,1941.2 906.8,2125.5 907.2,2033 907.2,1898.7 907.8,1987.2 907.8,2161.4 908.2,2165.5 908.2,1934.9 908.8,1969.5 908.8,2119.5 909.2,2049.2 909.2,1835 909.8,1897.8 909.8,2156.7 910.2,2108.8 910.2,2041 910.8,1773.6 910.8,2140.7 911.2,2126.5 911.2,1666.8 911.8,1946.4 911.8,2136.7 912.2,2149.6 912.2,1976.9 912.8,1771.7 912.8,2089.1 913.2,2074.4 913.2,1863.3 913.8,1833.2 913.8,2141 914.2,2195.2 914.2,1853.7 914.8,1898.3 914.8,2102.5 915.2,2149.8 915.2,2025.5 915.8,1861.1 915.8,2179.5 916.2,2079.7 916.2,1889.5 916.8,1903.7 916.8,2129 917.2,2153.4 917.2,1827 917.8,1865.9 917.8,2174.1 918.2,2083.2 918.2,1908.8 918.8,1939.2 918.8,2096.4 919.2,2096.3 919.2,1917 919.8,1899.5 919.8,2144.3 920.2,2084 920.2,1903 920.8,1839.6 920.8,2150.3 921.2,2118.1 921.2,1831.1 921.8,1785.8 921.8,2111.4 922.2,2105.4 922.2,1813.8 922.8,1972.6 922.8,2159.6 923.2,2149.2 923.2,1967 923.8,1888.2 923.8,2089.3 924.2,2143.5 924.2,1965.5 924.8,1857.6 924.8,2172.3 925.2,2129.7 925.2,1861 925.8,1886.4 925.8,2103.8 926.2,2171.1 926.2,1835.6 926.8,1919.4 926.8,2152.6 927.2,2105.6 927.2,1853.5 927.8,1791.5 927.8,2078.2 928.2,2111.1 928.2,1851.5 928.8,1969.9 928.8,2079 929.2,2145.6 929.2,1839.7 929.8,1738.9 929.8,2163 930.2,2144.6 930.2,2007.9 930.8,2033 930.8,2153.9 931.2,2111.4 931.2,1917 931.8,1759.1 931.8,2149.6 932.2,2077.4 932.2,1808.7 932.8,1907.5 932.8,2160.9 933.2,2188.2 933.2,1772.1 933.8,1850.6 933.8,2083.2 934.2,2118.5 934.2,1985.9 934.8,1847.9 934.8,2126.4 935.2,2139.2 935.2,1890.1 935.8,1770.4 935.8,2101.3 936.2,2130.4 936.2,1919.4 936.8,1891.5 936.8,2141.5 937.2,2168.9 937.2,1904.9 937.8,1775.1 937.8,2159.1 938.2,2138.8 938.2,1781.3 938.8,1813 938.8,2132 939.2,2129.3 939.2,1972.2 939.8,1869.6 939.8,2166.3 940.2,2092.1 940.2,1967.6 940.8,1689.8 940.8,2099.6 941.2,2110.5 941.2,1830.4 941.8,1860.2 941.8,2143.8 942.2,2195.4 942.2,1925.6 942.8,1964.5 942.8,2169.3 943.2,2131.2 943.2,1822.5 943.8,1829.5 943.8,2070.5 944.2,2089.8 944.2,1918 944.8,2010.3 944.8,2090.1 945.2,2174.4 945.2,1851.6 945.8,1837.6 945.8,2114.3 946.2,2163.8 946.2,1806.8 946.8,1871.4 946.8,2096.6 947.2,2072.4 947.2,1913.9 947.8,1917 947.8,2078.9 948.2,2192.3 948.2,1984.5 948.8,1887.6 948.8,2078.9 949.2,2161.5 949.2,2009.5 949.8,1950.4 949.8,2175 950.2,2130.6 950.2,1953 950.8,1938.8 950.8,2122.6 951.2,2177.7 951.2,1753.6 951.8,1860 951.8,2105.9 952.2,2181.4 952.2,1912.9 952.8,1826.1 952.8,2109.4 953.2,2172.6 953.2,1861.2 953.8,1928.5 953.8,2188.8 954.2,2129.4 954.2,1878.4 954.8,1818.3 954.8,2139.7 955.2,2137.7 955.2,1985.4 955.8,1945.2 955.8,2075.6 956.2,2101.7 956.2,1856.4 956.8,1930.7 956.8,2159.2 957.2,2131.5 957.2,1857.7 957.8,1783.3 957.8,2141 958.2,2116.8 958.2,1787.2 958.8,1827.3 958.8,2131 959.2,2181.8 959.2,1854.1 959.8,1815.1 959.8,2131.7 960.2,2188 960.2,2029.7 960.8,1923 960.8,2171.1 961.2,2109.8 961.2,1971.1 961.8,1781.7 961.8,2118.5 962.2,2135.4 962.2,1828.6 962.8,1810.2 962.8,2088 963.2,2118.4 963.2,1860.9 963.8,1854.6 963.8,2143.2 964.2,2180.8 964.2,1965.3 964.8,1862.9 964.8,2139.3 965.2,2130.6 965.2,1906.4 965.8,1682.7 965.8,2168 966.2,2192.3 966.2,1833.4 966.8,1793.2 966.8,2059.1 967.2,2134.2 967.2,1836.4 967.8,1840.1 967.8,2178.9 968.2,2171.7 968.2,1873.5 968.8,1915.7 968.8,2171.7 969.2,2100 969.2,1851.2 969.8,1855 969.8,2152.2 970.2,2117.2 970.2,2009.6 970.8,1896.4 970.8,2144.4 971.2,2161.9 971.2,1984.3 971.8,1857.1 971.8,2143.9 972.2,2126.6 972.2,1898.4 972.8,1995.6 972.8,2161.6 973.2,2171.4 973.2,1704.8 973.8,1993.1 973.8,2091.3 974.2,2073.1 974.2,1951.1 974.8,1994.5 974.8,2168.1 975.2,2184.9 975.2,1912.9 975.8,1822.5 975.8,2087.7 976.2,2144.6 976.2,1874.5 976.8,1826.4 976.8,2189.9 977.2,2138.4 977.2,1834.4 977.8,1900.1 977.8,2099.3 978.2,2160.7 978.2,1965.3 978.8,1911.6 978.8,2110 979.2,2098.9 979.2,1887.4 979.8,1772 979.8,2129.9 980.2,2140.2 980.2,1691.7 980.8,1856.6 980.8,2130.6 981.2,2161 981.2,1912.6 981.8,1829.9 981.8,2116.1 982.2,2177.8 982.2,1819.2 982.8,1887.3 982.8,2162.7 983.2,2101.4 983.2,1927.7 983.8,1874.6 983.8,2059 984.2,2157.4 984.2,1938.5 984.8,1799.7 984.8,2154.7 985.2,2138.1 985.2,1847 985.8,1893.7 985.8,2152.5 986.2,2170.2 986.2,1784.7 986.8,1832.9 986.8,2070.6 987.2,2084.1 987.2,1854 987.8,1906.3 987.8,2165.9 988.2,2140.8 988.2,1904.8 988.8,1783 988.8,2092.1 989.2,2081.3 989.2,1972.8 989.8,1718.8 989.8,2180.6 990.2,2144 990.2,1962.7 990.8,1914.5 990.8,2119.6 991.2,2036.1 991.2,1911.8 991.8,1860.7 991.8,2129.6 992.2,2150.2 992.2,1804.5 992.8,1855.2 992.8,2112.2 993.2,2100 993.2,1834.7 993.8,1829.7 993.8,2131.3 994.2,2146.5 994.2,1783.5 994.8,1833.1 994.8,2107 995.2,2130.1 995.2,1743.7 995.8,1828.5 995.8,2143.6 996.2,2135.3 996.2,1896.8 996.8,1946.8 996.8,2142.2 997.2,2177.7 997.2,1781.1 997.8,1900.7 997.8,2135 998.2,2117.5 998.2,1805 998.8,1868.3 998.8,2155.4 999.2,2126.4 999.2,1873.7 999.8,1816.6 999.8,2126.3 1000.2,2135 1000.2,1843.8 1000.8,1985.3 1000.8,2167.8 1001.2,2023.4 1001.2,1746.6 1001.8,1963.1 1001.8,2167.4 1002.2,2161.9 1002.2,1938.9 1002.8,1890.7 1002.8,2081 1003.2,2087.4 1003.2,1800.5 1003.8,1968.2 1003.8,2087.3 1004.2,2151.2 1004.2,1935.4 1004.8,1807.2 1004.8,2088.8 1005.2,2021.2 1005.2,1949.9 1005.8,1929.5 1005.8,2155.5 1006.2,2171.8 1006.2,1734.5 1006.8,1869.6 1006.8,2125.6 1007.2,2162.8 1007.2,1907 1007.8,1857.7 1007.8,2161.5 1008.2,2182.1 1008.2,1863.2 1008.8,1819.6 1008.8,2088.4 1009.2,2174.2 1009.2,1900 1009.8,1881.9 1009.8,2133.7 1010.2,2093.8 1010.2,1904.6 1010.8,1930.4 1010.8,2173.1 1011.2,2194.4 1011.2,1869.8 1011.8,1873.6 1011.8,2175 1012.2,2169.8 1012.2,1851.2 1012.8,1786.1 1012.8,2126 1013.2,2114.7 1013.2,1938.5 1013.8,1930.7 1013.8,2122 1014.2,2179.4 1014.2,1921.3 1014.8,1901.7 1014.8,2132.1 1015.2,2087.3 1015.2,1694.6 1015.8,2039.6 1015.8,2155 1016.2,2164.2 1016.2,1843.2 1016.8,1904.4 1016.8,2169 1017.2,2187.4 1017.2,1861 1017.8,1880.8 1017.8,2080.3 1018.2,2158.3 1018.2,1945.6 1018.8,1958.1 1018.8,2200.9 1019.2,2157 1019.2,1783.2 1019.8,1810 1019.8,2123.4 1020.2,2178.8 1020.2,1969 1020.8,1780.1 1020.8,2179.1 1021.2,2118.3 1021.2,1891.3 1021.8,1862.9 1021.8,2144 1022.2,2184.9 1022.2,2000.7 1022.8,1874.4 1022.8,2154.6 1023.2,2140.2 1023.2,1897.3 1023.8,1958.5 1023.8,2186.2 1024.2,2083.3 1024.2,1843.2 1024.8,1766.1 1024.8,2078.9 1025.2,2180.8 1025.2,1995 1025.8,1863.4 1025.8,2089.8 1026.2,2096.1 1026.2,1936.9 1026.8,1903.6 1026.8,2079.6 1027.2,2187.2 1027.2,1899.5 1027.8,1920.6 1027.8,2110.2 1028.2,2120.4 1028.2,1955.8 1028.8,1920.5 1028.8,2150.2 1029.2,2079.9 1029.2,1944.1 1029.8,1820.7 1029.8,2108.3 1030.2,2125.9 1030.2,1903.3 1030.8,1951 1030.8,2070.4 1031.2,2118.9 1031.2,1729.7 1031.8,1985.4 1031.8,2150.2 1032.2,2136.9 1032.2,1913.4 1032.8,1761.1 1032.8,2187.5 1033.2,2140.3 1033.2,1986.4 1033.8,1974.8 1033.8,2150.1 1034.2,2150.8 1034.2,2013.2 1034.8,1892 1034.8,2129.6 1035.2,2099.6 1035.2,1848.4 1035.8,1923.5 1035.8,2143.3 1036.2,2089.2 1036.2,1833.1 1036.8,1830.7 1036.8,2150.7 1037.2,2166.1 1037.2,1699.7 1037.8,1888.6 1037.8,2151 1038.2,2134.4 1038.2,2009.7 1038.8,1953.5 1038.8,2145.9 1039.2,2110.8 1039.2,1823.6 1039.8,1800.6 1039.8,2157.7 1040.2,1974.8 1040.2,1834.3 1040.8,1859.6 1040.8,2109.6 1041.2,2123.3 1041.2,1795.6 1041.8,1935.9 1041.8,2138.3 1042.2,2112.3 1042.2,1897.5 1042.8,1839.8 1042.8,2086.1 1043.2,2121.3 1043.2,1842.7 1043.8,1920.4 1043.8,2162.7 1044.2,2094.6 1044.2,1687.6 1044.8,1832.6 1044.8,2045.9 1045.2,2123.1 1045.2,1869.4 1045.8,1900.3 1045.8,2101.7 1046.2,2131 1046.2,1854 1046.8,1981.8 1046.8,2154.7 1047.2,2153.4 1047.2,1631.7 1047.8,1921.8 1047.8,2046.3 1048.2,2059.9 1048.2,1883.1 1048.8,1817.2 1048.8,2041.9 1049.2,2178.7 1049.2,1685.6 1049.8,1914.1 1049.8,2138.6 1050.2,2143.4 1050.2,1947.4 1050.8,1832.1 1050.8,2094.5 1051.2,2187.6 1051.2,2050.8 1051.8,1986.5 1051.8,2185.4 1052.2,2088.4 1052.2,1914.1 1052.8,1857.1 1052.8,2096 1053.2,2098.3 1053.2,1994.4 1053.8,1955.7 1053.8,2147.7 1054.2,2142.9 1054.2,1899 1054.8,1762.7 1054.8,2144.8 1055.2,2169.5 1055.2,1861 1055.8,1945.9 1055.8,2124.1 1056.2,2124.2 1056.2,1864.1 1056.8,1803.1 1056.8,2083.1 1057.2,2181.6 1057.2,2005.8 1057.8,1887.7 1057.8,2128.8 1058.2,2182 1058.2,1948.6 1058.8,1884.3 1058.8,2077.6 1059.2,2146.8 1059.2,1700.6 1059.8,1769.8 1059.8,2121.4 1060.2,2073.6 1060.2,1881.6 1060.8,1979.1 1060.8,2112 1061.2,2085.2 1061.2,1837.3 1061.8,1928.8 1061.8,2144.6 1062.2,2089.6 1062.2,1904.9 1062.8,1932.2 1062.8,2135.8 1063.2,2085.8 1063.2,1832 1063.8,1863 1063.8,2098.7 1064.2,2178 1064.2,1868.5 1064.8,1923 1064.8,2110.8 1065.2,2176.4 1065.2,1871 1065.8,1937.2 1065.8,2087.4 1066.2,2098.1 1066.2,1744.7 1066.8,1903.5 1066.8,2132.2 1067.2,2182 1067.2,1964.7 1067.8,1858.7 1067.8,2104.1 1068.2,2081.6 1068.2,1977.4 1068.8,1839.7 1068.8,2174.1 1069.2,2089.9 1069.2,1880.1 1069.8,1861.2 1069.8,2105.4 1070.2,2108.7 1070.2,1721.7 1070.8,1775.4 1070.8,2174.2 1071.2,2174.5 1071.2,1869.6 1071.8,1820.4 1071.8,2131 1072.2,2077.1 1072.2,1878.1 1072.8,1955.3 1072.8,2109.8 1073.2,2076.3 1073.2,1925.7 1073.8,1797.9 1073.8,2198.1 1074.2,2134.8 1074.2,1938.8 1074.8,1820.7 1074.8,2069.5 1075.2,2187.9 1075.2,1864.2 1075.8,1950 1075.8,2123.9 1076.2,2163.6 1076.2,1789.5 1076.8,1869.3 1076.8,2116.7 1077.2,2130.5 1077.2,1981.1 1077.8,1955.2 1077.8,2122.4 1078.2,2139.1 1078.2,1889.9 1078.8,1848.3 1078.8,2172.5 1079.2,2130.5 1079.2,1902.2 1079.8,1815.5 1079.8,2123.1 1080.2,2048.3 1080.2,1895.1 1080.8,1888.8 1080.8,2166.3 1081.2,2070.9 1081.2,1824.8 1081.8,1766.7 1081.8,2074.7 1082.2,2170.7 1082.2,1700.6 1082.8,1869.4 1082.8,2130.6 1083.2,2131 1083.2,2029.3 1083.8,1879.5 1083.8,2142.8 1084.2,2138.7 1084.2,1805.7 1084.8,1721 1084.8,2081.4 1085.2,2129.9 1085.2,1875.5 1085.8,1947.8 1085.8,2096.7 1086.2,2121.3 1086.2,1791.3 1086.8,2072 1086.8,2161.2 1087.2,2178.3 1087.2,1900 1087.8,1798.6 1087.8,2065 1088.2,2145 1088.2,1856.8 1088.8,1867 1088.8,2122.7 1089.2,2113.9 1089.2,1943.1 1089.8,1971 1089.8,2114.9 1090.2,2172 1090.2,1977.7 1090.8,1822.8 1090.8,2041.6 1091.2,2135.2 1091.2,1920.5 1091.8,1895.3 1091.8,2136.2 1092.2,2108.9 1092.2,1844.3 1092.8,1975.8 1092.8,2188.6 1093.2,2086.5 1093.2,1910.3 1093.8,1857.8 1093.8,2124.8 1094.2,2086.1 1094.2,1871.4 1094.8,1803.4 1094.8,2059.5 1095.2,2174.2 1095.2,1790.8 1095.8,1826.8 1095.8,2152.4 1096.2,2120.5 1096.2,1902.7 1096.8,1914.4 1096.8,2097.8 1097.2,2168.7 1097.2,1934.5 1097.8,1811.4 1097.8,2146.3 1098.2,2162.4 1098.2,1894.4 1098.8,1873 1098.8,2132.9 1099.2,2132.7 1099.2,1808.3 1099.8,1845.2 1099.8,2158.5 1100.2,2149.6 1100.2,1949.3 1100.8,1952.5 1100.8,2117.1 1101.2,2053.7 1101.2,1925.7 1101.8,1924.1 1101.8,2093.5 1102.2,2093.4 1102.2,1981.1 1102.8,1963.6 1102.8,2118 1103.2,2145.2 1103.2,1867 1103.8,1946.5 1103.8,2075.5 1104.2,2188.7 1104.2,1802.5 1104.8,1834.3 1104.8,2100 1105.2,2051 1105.2,1876.7 1105.8,1914.7 1105.8,2178.8 1106.2,2116 1106.2,1891.1 1106.8,1827.1 1106.8,2169.4 1107.2,2146.1 1107.2,1892.4 1107.8,1781.5 1107.8,2195.8 1108.2,2117.5 1108.2,1955.4 1108.8,1851 1108.8,2174.9 1109.2,2112 1109.2,1865.4 1109.8,1894.7 1109.8,2147.7 1110.2,2108.7 1110.2,1862.9 1110.8,1796.2 1110.8,2184.3 1111.2,2117.3 1111.2,1830.5 1111.8,1997.9 1111.8,2185.3 1112.2,2181.5 1112.2,2029.9 1112.8,1942 1112.8,2160.1 1113.2,2176.9 1113.2,1880 1113.8,1711 1113.8,2113.6 1114.2,2137.6 1114.2,1828.4 1114.8,1939.2 1114.8,2166.3 1115.2,2156.5 1115.2,1938.1 1115.8,1928.3 1115.8,2130.4 1116.2,2105.9 1116.2,1908.2 1116.8,1794.2 1116.8,2058.7 1117.2,2152.6 1117.2,1908.9 1117.8,1881.9 1117.8,2163.6 1118.2,2153.6 1118.2,1799.8 1118.8,1811.8 1118.8,2156.5 1119.2,2035.3 1119.2,1765.5 1119.8,1807 1119.8,2092.8 1120.2,2110.8 1120.2,1955 1120.8,1875.2 1120.8,2161 1121.2,2145.6 1121.2,1904.1 1121.8,1842.4 1121.8,2182.7 1122.2,2122.7 1122.2,1806.4 1122.8,1930.6 1122.8,2131.5 1123.2,2097.9 1123.2,1870.9 1123.8,1945.8 1123.8,2156.4 1124.2,2169.6 1124.2,1795 1124.8,1822.3 1124.8,2125.3 1125.2,2170.8 1125.2,1885.3 1125.8,1880.9 1125.8,2154.6 1126.2,2153.2 1126.2,1880.4 1126.8,1909.5 1126.8,2148.4 1127.2,2147.7 1127.2,1798.8 1127.8,1941.4 1127.8,2127.4 1128.2,2058.4 1128.2,1926.6 1128.8,1951.1 1128.8,2154.9 1129.2,2101.2 1129.2,1626.6 1129.8,1841.4 1129.8,2136.4 1130.2,2193.9 1130.2,1904.3 1130.8,1927.2 1130.8,2156.6 1131.2,2122.5 1131.2,1962 1131.8,1870.2 1131.8,2146 1132.2,2132.9 1132.2,1877.2 1132.8,1845.7 1132.8,2137.3 1133.2,2109.6 1133.2,1950 1133.8,1828.3 1133.8,2076.6 1134.2,2012.7 1134.2,1697.7 1134.8,1835.6 1134.8,2166.8 1135.2,2137.3 1135.2,1925.1 1135.8,1896.9 1135.8,2182.3 1136.2,2115 1136.2,2054.4 1136.8,1846.1 1136.8,2137.7 1137.2,2096.8 1137.2,1905.6 1137.8,1890.1 1137.8,2156.9 1138.2,2113.5 1138.2,1951.6 1138.8,1948.5 1138.8,2141.9 1139.2,2037.9 1139.2,1695.6 1139.8,1803.7 1139.8,2151.6 1140.2,2171.3 1140.2,1808.4 1140.8,1756.7 1140.8,2054.7 1141.2,2104.7 1141.2,1857.2 1141.8,1891.2 1141.8,2136.3 1142.2,2100.9 1142.2,1892 1142.8,1850.8 1142.8,2040 1143.2,2063.1 1143.2,1870.5 1143.8,1794.8 1143.8,2133.9 1144.2,2082 1144.2,1873.5 1144.8,1856.5 1144.8,2125.4 1145.2,2162.2 1145.2,1863.8 1145.8,1976.4 1145.8,2130.5 1146.2,2118.5 1146.2,1919.3 1146.8,1866.4 1146.8,2135.1 1147.2,2189.1 1147.2,1860.8 1147.8,1812.9 1147.8,2083.9 1148.2,2123.3 1148.2,1817.5 1148.8,1896.9 1148.8,2067.6 1149.2,2105.7 1149.2,1963.7 1149.8,1797.5 1149.8,2138.6 1150.2,2112.8 1150.2,1925 1150.8,1922.3 1150.8,2115.5 1151.2,2102 1151.2,1881.7 1151.8,1845.1 1151.8,2168.2 1152.2,2141.5 1152.2,1871 1152.8,1819.9 1152.8,2188.9 1153.2,2195.6 1153.2,1804.8 1153.8,1834.5 1153.8,2075.4 1154.2,2176.1 1154.2,1922 1154.8,1935 1154.8,2086.6 1155.2,2063.9 1155.2,1841.2 1155.8,1885.8 1155.8,2146.8 1156.2,2040.7 1156.2,1766.1 1156.8,1721 1156.8,2117 1157.2,2087 1157.2,1917.6 1157.8,1842.6 1157.8,2176.6 1158.2,2117.4 1158.2,1863.9 1158.8,1847.6 1158.8,2132.4 1159.2,2136.1 1159.2,1839.4 1159.8,2007.1 1159.8,2184.7 1160.2,2128.7 1160.2,1880.7 1160.8,1867.9 1160.8,2119.3 1161.2,2107.7 1161.2,1909 1161.8,1862.2 1161.8,2108.9 1162.2,2124.7 1162.2,1737.9 1162.8,1844.5 1162.8,2131.5 1163.2,2140.7 1163.2,1979.7 1163.8,1893 1163.8,2166.5 1164.2,2137 1164.2,1974.1 1164.8,1809.7 1164.8,2202.9 1165.2,2116.7 1165.2,1798.8 1165.8,1937.5 1165.8,2173 1166.2,2147 1166.2,1843.3 1166.8,2007.1 1166.8,2180.2 1167.2,2194.8 1167.2,1929.6 1167.8,1585.5 1167.8,2125.9 1168.2,2136.4 1168.2,1918.4 1168.8,1807.8 1168.8,2133.5 1169.2,2103.8 1169.2,1824.2 1169.8,1814.1 1169.8,2154.7 1170.2,2189.3 1170.2,1967.9 1170.8,1891 1170.8,2091.8 1171.2,2155.2 1171.2,1813.5 1171.8,1917.4 1171.8,2148.6 1172.2,2141.3 1172.2,1886.9 1172.8,1809.4 1172.8,2117.8 1173.2,2180.5 1173.2,1984.1 1173.8,1973.4 1173.8,2154.3 1174.2,2084.2 1174.2,1822.6 1174.8,1760.6 1174.8,2161.8 1175.2,2091.6 1175.2,1907.6 1175.8,1971.6 1175.8,2141.8 1176.2,2105.1 1176.2,1987.7 1176.8,2003.7 1176.8,2124.9 1177.2,2137.6 1177.2,1868 1177.8,1835.9 1177.8,2170.6 1178.2,2083.8 1178.2,1857.8 1178.8,1810.9 1178.8,2139.9 1179.2,2174.3 1179.2,1953 1179.8,1918.1 1179.8,2120.6 1180.2,2201.6 1180.2,1768.2 1180.8,1869 1180.8,2111.2 1181.2,2169 1181.2,1881.5 1181.8,1865.5 1181.8,2089 1182.2,2056.9 1182.2,1937.5 1182.8,1802.4 1182.8,2174.8 1183.2,2162.8 1183.2,1966.3 1183.8,1844.4 1183.8,2115.8 1184.2,2133.7 1184.2,1970.9 1184.8,1663.9 1184.8,2087.3 1185.2,2119 1185.2,1901.1 1185.8,1800.2 1185.8,2163.7 1186.2,2155.9 1186.2,1859.2 1186.8,1994.3 1186.8,2180 1187.2,2159.5 1187.2,1914.4 1187.8,1987.8 1187.8,2122.3 1188.2,2121.8 1188.2,1836.1 1188.8,1969.3 1188.8,2110.5 1189.2,2113.2 1189.2,1868.2 1189.8,1921.1 1189.8,2112.1 1190.2,2169.6 1190.2,1794.1 1190.8,1922.5 1190.8,2141.8 1191.2,2065.9 1191.2,1873.5 1191.8,1824.2 1191.8,2048 1192.2,2162.8 1192.2,1849.4 1192.8,2001.7 1192.8,2120.3 1193.2,2133 1193.2,1781.3 1193.8,1896.4 1193.8,2110.6 1194.2,2171.9 1194.2,1886.9 1194.8,1869.4 1194.8,2123.3 1195.2,2145.9 1195.2,2017.1 1195.8,2006.8 1195.8,2136.8 1196.2,2155.1 1196.2,1798.3 1196.8,1924.3 1196.8,2101.1 1197.2,2115 1197.2,1871.3 1197.8,1805.6 1197.8,2164.7 1198.2,2078.5 1198.2,1757.4 1198.8,1869.6 1198.8,2075.9 1199.2,2140 1199.2,1865.2 1199.8,1888.7 1199.8,1999.8 1200.2,2122.1 1200.2,1875.4 1200.8,1926.8 1200.8,2151.1 1201.2,2049.2 1201.2,1924.8 1201.8,1851.9 1201.8,2096.7 1202.2,2147 1202.2,1931.4 1202.8,1728.7 1202.8,2155.3 1203.2,2093.1 1203.2,1845.7 1203.8,1919.1 1203.8,2122.8 1204.2,2088.2 1204.2,1815.7 1204.8,1904.3 1204.8,2168.2 1205.2,2093.1 1205.2,1914.6 1205.8,1942.8 1205.8,2138 1206.2,2124 1206.2,1837.6 1206.8,1921.6 1206.8,2039.9 1207.2,2129.5 1207.2,1847.2 1207.8,1831.1 1207.8,2158.7 1208.2,2150.6 1208.2,1930.1 1208.8,1813.3 1208.8,2136.1 1209.2,2172.2 1209.2,1786.7 1209.8,1710.8 1209.8,2040.3 1210.2,2132.2 1210.2,1984.7 1210.8,1936.8 1210.8,2149.2 1211.2,2154.9 1211.2,1900.4 1211.8,1912.3 1211.8,2122.4 1212.2,2084.9 1212.2,1819.3 1212.8,1908.6 1212.8,2161.6 1213.2,2157.2 1213.2,1918 1213.8,1896.5 1213.8,2066.3 1214.2,2142.9 1214.2,1769.9 1214.8,1828.5 1214.8,2190.3 1215.2,2118.8 1215.2,1773.3 1215.8,1932.7 1215.8,2064.5 1216.2,2116.8 1216.2,1887.9 1216.8,1789.8 1216.8,2036.3 1217.2,2078.4 1217.2,1840.9 1217.8,1785.9 1217.8,2188.7 1218.2,2139.8 1218.2,1937.2 1218.8,1818.5 1218.8,2171.6 1219.2,2130.2 1219.2,1900.6 1219.8,1918.7 1219.8,2129.9 1220.2,2137.3 1220.2,1804.7 1220.8,1888.6 1220.8,2047.3 1221.2,2137.2 1221.2,1725.8 1221.8,1943.6 1221.8,2186.8 1222.2,2163.1 1222.2,1924.3 1222.8,1803.3 1222.8,2195.3 1223.2,2106.9 1223.2,1956 1223.8,1931.1 1223.8,2112.5 1224.2,2170 1224.2,1867.7 1224.8,1836.5 1224.8,2044 1225.2,2065.5 1225.2,1935.5 1225.8,1700.6 1225.8,2154.4 1226.2,2131.7 1226.2,1897.5 1226.8,1869.7 1226.8,2153.7 1227.2,2118 1227.2,1859.6 1227.8,1975.2 1227.8,2165.6 1228.2,2155.3 1228.2,1915.2 1228.8,1852.7 1228.8,2150.2 1229.2,2170.7 1229.2,1879.5 1229.8,1809.5 1229.8,2123.6 1230.2,2079.8 1230.2,1875.8 1230.8,1915.1 1230.8,2101.1 1231.2,2061.4 1231.2,1925.9 1231.8,1836.6 1231.8,2144 1232.2,2132.4 1232.2,1930 1232.8,1823.6 1232.8,1998.7 1233.2,2132.6 1233.2,1933.8 1233.8,1767.2 1233.8,2143.5 1234.2,2149.6 1234.2,1797.3 1234.8,1974.9 1234.8,2151.3 1235.2,2134.3 1235.2,1842.8 1235.8,1879.1 1235.8,2084 1236.2,2106 1236.2,1862.1 1236.8,2043.9 1236.8,2174.8 1237.2,2201.4 1237.2,1836.4 1237.8,1939.2 1237.8,2082.7 1238.2,2173.8 1238.2,1912.2 1238.8,1963.7 1238.8,2136.1 1239.2,2111.2 1239.2,1906.1 1239.8,1923.4 1239.8,2173 1240.2,2099.6 1240.2,1890 1240.8,1726.8 1240.8,2096 1241.2,2181.1 1241.2,1925.2 1241.8,1968.9 1241.8,2178.6 1242.2,2079.7 1242.2,1830.5 1242.8,1884.3 1242.8,2122.1 1243.2,2181.3 1243.2,2007.5 1243.8,1966.3 1243.8,2160.7 1244.2,2056.1 1244.2,1806.2 1244.8,1925.6 1244.8,2181 1245.2,2181.6 1245.2,1923.7 1245.8,1861.9 1245.8,2105.8 1246.2,2175.8 1246.2,1876 1246.8,1933 1246.8,2063.5 1247.2,2132.9 1247.2,1959.5 1247.8,1844.8 1247.8,1995.9 1248.2,2149.8 1248.2,1838 1248.8,1759 1248.8,2111.8 1249.2,2139.8 1249.2,1859.2 1249.8,1923.2 1249.8,2138 1250.2,2155 1250.2,1947.1 1250.8,2068 1250.8,2157.9 1251.2,2079.5 1251.2,1890.4 1251.8,1840.5 1251.8,2062.6 1252.2,2120.8 1252.2,1899.4 1252.8,1910.3 1252.8,2154.9 1253.2,2137.2 1253.2,1845.3 1253.8,1967 1253.8,2196.2 1254.2,2167.1 1254.2,1849.4 1254.8,1744.9 1254.8,2158.6 1255.2,2185.9 1255.2,1868.7 1255.8,1966.4 1255.8,2184.1 1256.2,2149.1 1256.2,1961.4 1256.8,1880.8 1256.8,2148.7 1257.2,2161 1257.2,1996 1257.8,1917.1 1257.8,2171.1 1258.2,2147.9 1258.2,1761.2 1258.8,1861.3 1258.8,2153.1 1259.2,2103.9 1259.2,1901.3 1259.8,1939.9 1259.8,2148.5 1260.2,2141.8 1260.2,1946.5 1260.8,1896.3 1260.8,2160.1 1261.2,2120.1 1261.2,1708.6 1261.8,1947.5 1261.8,2171.1 1262.2,2131.3 1262.2,1874.3 1262.8,1944.9 1262.8,2170.1 1263.2,2160.4 1263.2,1924.1 1263.8,1841.5 1263.8,2152.7 1264.2,2095.6 1264.2,1811 1264.8,1945.6 1264.8,2144.6 1265.2,2102.8 1265.2,1930.7 1265.8,1924.6 1265.8,2164.7 1266.2,2086.4 1266.2,1836.7 1266.8,1709.8 1266.8,2081.3 1267.2,2071.9 1267.2,1917.3 1267.8,1983.1 1267.8,2088.4 1268.2,2092 1268.2,1776.5 1268.8,1851.2 1268.8,2104.3 1269.2,2160.4 1269.2,2008.5 1269.8,1804.9 1269.8,2085 1270.2,2140.5 1270.2,1723.1 1270.8,1963.8 1270.8,2160.3 1271.2,2105.9 1271.2,1912.1 1271.8,1916.1 1271.8,2135.1 1272.2,2051.5 1272.2,1914.9 1272.8,1818.2 1272.8,2073.9 1273.2,2175 1273.2,1939.2 1273.8,1823.9 1273.8,2062.6 1274.2,2130.8 1274.2,1941.8 1274.8,1832.9 1274.8,2144.4 1275.2,2142.9 1275.2,1904.6 1275.8,1993.4 1275.8,2140 1276.2,2152 1276.2,1578.2 1276.8,1794.9 1276.8,2091 1277.2,2079.1 1277.2,1858.2 1277.8,1947.9 1277.8,2164.6 1278.2,2136.8 1278.2,1886.5 1278.8,1795 1278.8,2097.2 1279.2,2159.6 1279.2,1957 1279.8,1883.3 1279.8,2096.4 1280.2,2118 1280.2,1953.2 1280.8,2044.7 1280.8,2102.5 1281.2,2150 1281.2,1800.5 1281.8,1876.9 1281.8,2092.3 1282.2,1995.8 1282.2,1883.3 1282.8,1819.5 1282.8,2127.2 1283.2,2185 1283.2,1932.4 1283.8,1893.2 1283.8,2086.2 1284.2,2148.2 1284.2,1927.8 1284.8,1866 1284.8,2044.1 1285.2,2178.9 1285.2,1974.3 1285.8,1923.6 1285.8,2138.8 1286.2,2142.7 1286.2,2012.4 1286.8,1900.3 1286.8,2065.7 1287.2,2181.6 1287.2,1889.7 1287.8,1874.6 1287.8,2043.5 1288.2,2173.2 1288.2,1870.6 1288.8,1924.7 1288.8,2137 1289.2,2067.2 1289.2,1832.3 1289.8,1901.9 1289.8,2071.3 1290.2,2134.4 1290.2,1987.7 1290.8,1927.7 1290.8,2132.5 1291.2,2154.4 1291.2,1931.8 1291.8,1947.9 1291.8,2101.9 1292.2,2081 1292.2,1783 1292.8,1713.7 1292.8,2036.8 1293.2,2114.4 1293.2,1900.1 1293.8,2006.8 1293.8,2116.3 1294.2,2149.3 1294.2,1879.6 1294.8,1877.4 1294.8,2192.7 1295.2,2089.2 1295.2,1860.3 1295.8,1888.1 1295.8,2189 1296.2,2157.1 1296.2,1670.9 1296.8,1895.9 1296.8,2082.2 1297.2,2119.5 1297.2,1898.9 1297.8,1852.8 1297.8,2190.5 1298.2,2081.9 1298.2,1885.2 1298.8,1818.8 1298.8,2102.7 1299.2,2103.7 1299.2,1824.5 1299.8,1927.2 1299.8,2062.5 1300.2,2155.7 1300.2,1941.1 1300.8,1918.2 1300.8,2103.6 1301.2,2162.3 1301.2,1882.1 1301.8,1954.2 1301.8,2147.2 1302.2,2089.2 1302.2,1879.5 1302.8,2009.6 1302.8,2136.3 1303.2,2190.3 1303.2,1935.2 1303.8,1945.6 1303.8,2056.2 1304.2,2142.9 1304.2,1886.1 1304.8,1780.6 1304.8,2116 1305.2,2144.6 1305.2,1818.3 1305.8,1893 1305.8,2015.6 1306.2,2186.8 1306.2,1994 1306.8,1977.3 1306.8,2158.9 1307.2,2089.9 1307.2,1890.6 1307.8,1897.1 1307.8,2183.9 1308.2,2174.9 1308.2,1962.9 1308.8,1635.6 1308.8,2089.3 1309.2,2127.9 1309.2,1845.8 1309.8,1848.6 1309.8,2130.8 1310.2,2149.3 1310.2,1858.4 1310.8,2015.6 1310.8,2152.1 1311.2,2104.3 1311.2,1625.4 1311.8,1835.1 1311.8,2098.5 1312.2,2136.8 1312.2,1935.4 1312.8,1952.6 1312.8,2178.4 1313.2,2100 1313.2,1981.7 1313.8,1957.6 1313.8,2157.3 1314.2,2165 1314.2,1953 1314.8,1813.2 1314.8,2171.1 1315.2,2152.1 1315.2,1815.5 1315.8,1908.5 1315.8,2167.7 1316.2,2151.4 1316.2,2011.7 1316.8,1905.9 1316.8,2093.5 1317.2,2030.7 1317.2,1727.5 1317.8,1803.8 1317.8,2150.4 1318.2,2150.4 1318.2,1814.9 1318.8,1770.1 1318.8,2103 1319.2,2132.9 1319.2,1987 1319.8,1816.4 1319.8,2119.1 1320.2,2119.7 1320.2,1901.7 1320.8,1940.9 1320.8,2153.2 1321.2,2125.5 1321.2,1967.8 1321.8,1943.3 1321.8,2077.1 1322.2,2056.3 1322.2,1730.6 1322.8,1757.3 1322.8,2158.4 1323.2,2135.5 1323.2,2003.8 1323.8,1959.3 1323.8,2131.3 1324.2,2128.5 1324.2,1854.1 1324.8,1880.2 1324.8,2088 1325.2,2158.3 1325.2,1987.7 1325.8,1802.6 1325.8,2077.9 1326.2,2182.1 1326.2,1801.2 1326.8,1816 1326.8,2168.2 1327.2,2144.6 1327.2,1970.3 1327.8,1872 1327.8,2129 1328.2,2080 1328.2,1876 1328.8,1777.4 1328.8,1984.6 1329.2,2171.3 1329.2,1926.4 1329.8,1888.5 1329.8,2140.7 1330.2,2175 1330.2,1928.3 1330.8,1865.8 1330.8,2119 1331.2,2163.1 1331.2,1930.2 1331.8,1822.9 1331.8,2105.1 1332.2,2105.9 1332.2,1923.8 1332.8,1918.1 1332.8,2156.6 1333.2,2056.5 1333.2,1770.5 1333.8,1911 1333.8,2140.6 1334.2,2148 1334.2,1743.7 1334.8,1797.6 1334.8,2123 1335.2,2118 1335.2,1908.2 1335.8,1937.8 1335.8,2130.1 1336.2,2174 1336.2,1849.5 1336.8,1943 1336.8,2151.5 1337.2,2155.4 1337.2,1923.1 1337.8,1926.4 1337.8,2107 1338.2,2172.2 1338.2,1927.6 1338.8,1800.7 1338.8,2157.9 1339.2,2082.2 1339.2,1694.6 1339.8,1954.3 1339.8,2141.2 1340.2,2177.6 1340.2,1809.5 1340.8,1784 1340.8,2064.3 1341.2,2134.9 1341.2,1915.9 1341.8,1894.9 1341.8,2175.3 1342.2,2130.2 1342.2,1877.5 1342.8,1873 1342.8,2192.5 1343.2,2113.6 1343.2,1930.8 1343.8,1976.5 1343.8,2119.6 1344.2,2104 1344.2,1824.4 1344.8,1874.2 1344.8,2187.7 1345.2,2178.6 1345.2,1939.6 1345.8,1764.7 1345.8,2134.3 1346.2,2166.4 1346.2,1841.5 1346.8,1943.3 1346.8,2090.3 1347.2,2051.6 1347.2,1886.8 1347.8,1712.7 1347.8,2185.8 1348.2,2182.5 1348.2,1900.3 1348.8,1947.2 1348.8,2116.6 1349.2,2172.7 1349.2,1885.8 1349.8,1979.6 1349.8,2168 1350.2,2060.5 1350.2,1897.4 1350.8,1810.8 1350.8,2122.8 1351.2,2120.5 1351.2,1863.5 1351.8,1895.4 1351.8,2147.7 1352.2,2083.2 1352.2,1765.8 1352.8,1792.8 1352.8,2149.5 1353.2,2116.5 1353.2,1849.7 1353.8,1847.1 1353.8,2148.5 1354.2,2116 1354.2,1848.5 1354.8,1891 1354.8,2134.7 1355.2,2076.9 1355.2,1885.7 1355.8,1932.7 1355.8,2145.8 1356.2,2081.9 1356.2,1967.6 1356.8,1914.9 1356.8,2033.1 1357.2,2163 1357.2,1997 1357.8,1875.6 1357.8,2094 1358.2,2153.2 1358.2,1882.2 1358.8,1927.1 1358.8,2043.3 1359.2,2173.4 1359.2,1840 1359.8,1919.9 1359.8,2182.4 1360.2,2116.3 1360.2,1887.7 1360.8,1897.9 1360.8,2103 1361.2,2183.7 1361.2,2045.4 1361.8,1941.1 1361.8,2159.8 1362.2,2138.5 1362.2,1800.3 1362.8,1834.4 1362.8,2079.3 1363.2,2137.6 1363.2,1974.8 1363.8,1828.5 1363.8,2136.8 1364.2,2125.3 1364.2,1890.4 1364.8,1956.9 1364.8,2140.7 1365.2,2145.8 1365.2,1952.2 1365.8,1865.3 1365.8,2136.4 1366.2,2070.2 1366.2,1876.5 1366.8,1822.1 1366.8,2103.5 1367.2,2151.6 1367.2,1841.5 1367.8,1887.4 1367.8,2048.2 1368.2,2123.1 1368.2,1973.8 1368.8,1899.7 1368.8,2137.6 1369.2,2132.1 1369.2,1843.6 1369.8,1928.1 1369.8,2096.2 1370.2,2169.3 1370.2,1885.3 1370.8,1853.9 1370.8,2127 1371.2,2131.6 1371.2,1776.3 1371.8,1942.6 1371.8,2153.8 1372.2,2069.2 1372.2,1978.9 1372.8,1988.3 1372.8,2131.3 1373.2,2131.6 1373.2,1883.1 1373.8,1918.1 1373.8,2178 1374.2,2024.4 1374.2,1766 1374.8,1958.6 1374.8,2105.9 1375.2,2178.3 1375.2,1928.7 1375.8,1909.5 1375.8,2067.6 1376.2,2062 1376.2,1943.4 1376.8,1934.5 1376.8,2123.7 1377.2,2183.8 1377.2,1837.1 1377.8,1950.4 1377.8,2124 1378.2,2106.2 1378.2,1879.6 1378.8,1838.2 1378.8,2171.9 1379.2,2153.4 1379.2,2010.8 1379.8,1885.4 1379.8,2179.9 1380.2,2105.1 1380.2,1780.5 1380.8,1899.5 1380.8,2091.1 1381.2,2137.7 1381.2,1862.7 1381.8,2009.5 1381.8,2152.2 1382.2,2148.9 1382.2,1836.1 1382.8,1813.2 1382.8,2198.7 1383.2,2072.2 1383.2,1926.3 1383.8,2027.7 1383.8,2127.4 1384.2,2167.2 1384.2,1716.6 1384.8,1928.6 1384.8,2120.6 1385.2,2161.3 1385.2,1927.3 1385.8,1882.2 1385.8,2149.7 1386.2,2104.3 1386.2,1809.9 1386.8,1941.7 1386.8,2062.6 1387.2,2167.7 1387.2,1667.5 1387.8,1926 1387.8,2179.2 1388.2,2139 1388.2,1862 1388.8,1867.9 1388.8,2090.7 1389.2,2145.6 1389.2,1931.7 1389.8,1938.1 1389.8,2120.9 1390.2,2112.1 1390.2,1930.7 1390.8,1946.7 1390.8,2165.3 1391.2,2150.3 1391.2,1949 1391.8,1949.9 1391.8,2171.8 1392.2,2131.3 1392.2,1946.1 1392.8,1838.8 1392.8,2126.5 1393.2,2073.2 1393.2,1758.5 1393.8,1876 1393.8,2194.5 1394.2,2007.7 1394.2,1916.4 1394.8,1852.9 1394.8,2139.7 1395.2,2113.7 1395.2,1842.5 1395.8,1827.9 1395.8,2174.3 1396.2,2153.9 1396.2,1806.2 1396.8,1900.4 1396.8,2106.7 1397.2,2150.8 1397.2,1853.9 1397.8,1875 1397.8,2064.8 1398.2,2140.7 1398.2,1871.3 1398.8,1869 1398.8,2140.5 1399.2,2196.7 1399.2,1826.5 1399.8,1871 1399.8,2085.7 1400.2,2170.6 1400.2,1925.2 1400.8,1827.5 1400.8,2061.6 1401.2,2191 1401.2,1934.7 1401.8,1769.3 1401.8,2162.6 1402.2,2158.8 1402.2,1869.6 1402.8,1891.2 1402.8,2133 1403.2,2180.4 1403.2,2018 1403.8,1922.2 1403.8,2169.7 1404.2,2142.7 1404.2,1730.6 1404.8,1831.3 1404.8,1987.6 1405.2,2109.9 1405.2,1865 1405.8,1775.3 1405.8,2103.9 1406.2,2147.3 1406.2,1764.6 1406.8,1874.7 1406.8,2091.3 1407.2,2127.8 1407.2,1929 1407.8,1924.5 1407.8,2138.1 1408.2,2086 1408.2,1883.2 1408.8,1825.3 1408.8,2135.9 1409.2,2175.4 1409.2,1993.6 1409.8,1833.4 1409.8,2175.3 1410.2,2187 1410.2,1855.2 1410.8,1842 1410.8,2145.3 1411.2,2193.3 1411.2,2019.6 1411.8,1860.1 1411.8,2144.7 1412.2,2153 1412.2,1768.9 1412.8,1900.6 1412.8,2140.7 1413.2,2160.8 1413.2,1912.2 1413.8,1881.5 1413.8,2147 1414.2,2086.7 1414.2,1782.7 1414.8,1949.8 1414.8,2115.3 1415.2,2079.4 1415.2,1838.9 1415.8,1792.8 1415.8,2155.5 1416.2,2148 1416.2,1882.4 1416.8,1756 1416.8,2119.1 1417.2,2163 1417.2,1910.1 1417.8,1990.6 1417.8,2144 1418.2,2069.1 1418.2,1855.7 1418.8,1890.2 1418.8,2058.7 1419.2,2133.3 1419.2,1883.5 1419.8,1881 1419.8,2144.6 1420.2,2091.5 1420.2,1810 1420.8,2051.7 1420.8,2172.5 1421.2,2150.4 1421.2,1964.1 1421.8,1691.7 1421.8,2145.1 1422.2,2144.3 1422.2,1843.5 1422.8,1866.3 1422.8,2133.2 1423.2,2168.1 1423.2,1855.3 1423.8,1868.6 1423.8,2126.2 1424.2,2130.6 1424.2,1840.3 1424.8,1842.8 1424.8,2181.5 1425.2,2109.1 1425.2,1847.3 1425.8,1907.9 1425.8,2104.3 1426.2,2165.1 1426.2,2019.6 1426.8,1911.2 1426.8,2068.4 1427.2,2107.5 1427.2,1784.4 1427.8,1895.3 1427.8,2158.7 1428.2,2099.2 1428.2,1889.3 1428.8,1746.9 1428.8,2063.3 1429.2,2109.5 1429.2,1820.9 1429.8,1858.4 1429.8,2195.1 1430.2,2164.3 1430.2,1806.9 1430.8,1812.5 1430.8,2076.5 1431.2,2178.8 1431.2,1887 1431.8,1952 1431.8,2162.5 1432.2,2183.4 1432.2,1901.9 1432.8,1927.1 1432.8,2099.4 1433.2,2126.6 1433.2,1861 1433.8,1954 1433.8,2135.6 1434.2,2112.8 1434.2,1834.6 1434.8,1920.6 1434.8,2135.6 1435.2,2168.8 1435.2,2005.7 1435.8,1907.9 1435.8,2158.7 1436.2,2141.4 1436.2,1762.3 1436.8,1969.9 1436.8,2135.9 1437.2,2165 1437.2,1760.7 1437.8,1919.3 1437.8,2118 1438.2,2149.2 1438.2,1850 1438.8,1823.4 1438.8,2056.2 1439.2,2119.6 1439.2,1965.5 1439.8,1893 1439.8,2115.4 1440.2,2160.9 1440.2,1884.6 1440.8,1939.7 1440.8,2185.8 1441.2,2161.4 1441.2,1873.9 1441.8,1871.1 1441.8,2112.6 1442.2,2125.4 1442.2,1945.6 1442.8,1810.5 1442.8,2112.4 1443.2,2048.1 1443.2,1938.7 1443.8,1799.1 1443.8,2124.6 1444.2,2171.1 1444.2,1812.5 1444.8,1797.1 1444.8,2189.7 1445.2,2075.6 1445.2,1925.4 1445.8,2027.5 1445.8,2179.4 1446.2,2183.3 1446.2,1863.9 1446.8,1912 1446.8,2122.1 1447.2,2111.1 1447.2,1962.4 1447.8,1864.7 1447.8,2070.3 1448.2,2139.1 1448.2,1878.3 1448.8,1763.7 1448.8,2005.1 1449.2,2145.8 1449.2,1973.5 1449.8,1899.8 1449.8,2128.3 1450.2,2117.5 1450.2,1909.1 1450.8,1948.7 1450.8,2083.9 1451.2,2109.3 1451.2,1869.4 1451.8,1874.5 1451.8,2116.2 1452.2,2054.6 1452.2,1917.5 1452.8,1772.1 1452.8,2134.8 1453.2,2163.3 1453.2,1911.3 1453.8,1947.3 1453.8,2187 1454.2,2149.5 1454.2,1945 1454.8,1738.4 1454.8,2070 1455.2,2111.4 1455.2,1871.2 1455.8,1850.5 1455.8,2143.3 1456.2,2157.9 1456.2,1928.2 1456.8,1874.5 1456.8,2097.6 1457.2,2192.2 1457.2,1680.6 1457.8,1833.7 1457.8,2096.6 1458.2,2071.2 1458.2,1764.7 1458.8,1911.8 1458.8,2032 1459.2,2128.3 1459.2,1927.3 1459.8,1886.8 1459.8,2161.3 1460.2,2102.1 1460.2,1854.6 1460.8,1780.8 1460.8,2021.8 1461.2,2137.4 1461.2,1980.1 1461.8,1905.4 1461.8,2126.4 1462.2,2181.4 1462.2,1941.1 1462.8,1893.4 1462.8,2122.9 1463.2,2135.3 1463.2,1834.1 1463.8,1931.6 1463.8,2173.8 1464.2,2182.5 1464.2,1854.9 1464.8,1922.3 1464.8,2113.6 1465.2,2077.4 1465.2,1934.1 1465.8,1850.3 1465.8,2134.8 1466.2,2137.8 1466.2,1859.1 1466.8,1885.4 1466.8,2084.3 1467.2,2180.7 1467.2,1862.2 1467.8,1917.3 1467.8,2110.1 1468.2,2087.4 1468.2,1909.6 1468.8,1855 1468.8,2128.5 1469.2,2142.2 1469.2,1952.7 1469.8,1758.7 1469.8,2179.3 1470.2,2111.5 1470.2,1880.3 1470.8,1791.8 1470.8,2086.8 1471.2,2113.8 1471.2,1851.8 1471.8,1873.6 1471.8,2160.1 1472.2,2128.6 1472.2,1952.6 1472.8,1878.1 1472.8,2033.9 1473.2,2069.6 1473.2,1871.1 1473.8,1860.5 1473.8,2126.8 1474.2,2153.1 1474.2,1894.6 1474.8,1954.9 1474.8,2032.2 1475.2,2152.4 1475.2,1947.5 1475.8,1891.3 1475.8,2139.4 1476.2,2151.1 1476.2,1948.1 1476.8,1852.1 1476.8,2174.6 1477.2,2142.4 1477.2,2008.6 1477.8,1829.2 1477.8,2080.5 1478.2,2106.9 1478.2,1681.5 1478.8,1971.9 1478.8,2171.4 1479.2,2141.4 1479.2,1907.3 1479.8,1851.8 1479.8,2142.2 1480.2,2145.9 1480.2,1833.8 1480.8,1929.5 1480.8,2109.2 1481.2,2203.5 1481.2,1888.7 1481.8,1800.6 1481.8,2068.8 1482.2,2096.7 1482.2,1961 1482.8,1914.7 1482.8,2134 1483.2,2152 1483.2,1911.2 1483.8,1912.2 1483.8,2155.8 1484.2,2073.5 1484.2,1874 1484.8,1937.7 1484.8,2034.4 1485.2,2110 1485.2,1829.7 1485.8,1980.5 1485.8,2111.7 1486.2,2117.8 1486.2,1745.6 1486.8,1781.2 1486.8,2017.2 1487.2,2191 1487.2,1812.3 1487.8,2018.3 1487.8,2104.4 1488.2,2178.7 1488.2,1981.6 1488.8,1842.9 1488.8,2085.7 1489.2,2106.1 1489.2,1862 1489.8,1763.8 1489.8,2136.6 1490.2,2167.1 1490.2,1898.7 1490.8,1853.8 1490.8,2127.8 1491.2,2152.3 1491.2,1835.9 1491.8,1842.1 1491.8,2058.6 1492.2,2110.2 1492.2,1785.9 1492.8,1917 1492.8,2150.2 1493.2,2159.4 1493.2,1796.8 1493.8,1881.8 1493.8,2096.9 1494.2,2169.8 1494.2,1980.6 1494.8,1861.6 1494.8,2139 1495.2,2196.7 1495.2,1875.2 1495.8,1894 1495.8,2108.6 1496.2,2121.5 1496.2,1997 1496.8,1843.3 1496.8,2183.5 1497.2,2051.1 1497.2,1732.8 1497.8,1882.5 1497.8,2042.8 1498.2,2182.7 1498.2,1960.9 1498.8,1801.4 1498.8,2066.4 1499.2,2092.3 1499.2,1954.6 1499.8,1906.8 1499.8,2086.8 1500.2,2135.9 1500.2,1824.7 1500.8,1846 1500.8,2125.2 1501.2,2174.2 1501.2,1783.2 1501.8,1784.4 1501.8,2179.8 1502.2,2087.8 1502.2,1847.7 1502.8,1882.5 1502.8,2041.2 1503.2,2160.4 1503.2,1949 1503.8,1772.5 1503.8,2179.8 1504.2,2157.1 1504.2,1958.1 1504.8,1880.5 1504.8,2158.9 1505.2,2108.1 1505.2,1657.8 1505.8,1859.4 1505.8,2163 1506.2,2137 1506.2,1883.1 1506.8,1855.3 1506.8,2079.5 1507.2,2086.2 1507.2,1827.1 1507.8,1958.3 1507.8,2143.2 1508.2,2182.5 1508.2,1807.2 1508.8,1969.6 1508.8,2111.9 1509.2,2048.3 1509.2,1575.8 1509.8,1805.3 1509.8,2184.4 1510.2,2170.6 1510.2,1869.8 1510.8,1864.4 1510.8,2117.3 1511.2,2137.3 1511.2,1651.8 1511.8,1968.5 1511.8,2141.6 1512.2,2201.4 1512.2,1913.7 1512.8,1889.1 1512.8,2107 1513.2,2102.6 1513.2,1817.6 1513.8,1956.8 1513.8,2177.2 1514.2,2131.7 1514.2,1897.5 1514.8,1917.7 1514.8,2171.5 1515.2,2138 1515.2,1910.6 1515.8,1915.6 1515.8,2160.2 1516.2,2026.5 1516.2,1925.3 1516.8,1940.9 1516.8,2108.3 1517.2,2128.2 1517.2,1863.3 1517.8,1902.2 1517.8,2105.4 1518.2,2150.8 1518.2,2019.9 1518.8,1958.6 1518.8,2114 1519.2,2150.3 1519.2,1874.4 1519.8,1945.9 1519.8,2147.6 1520.2,2106.4 1520.2,1824.9 1520.8,1811.6 1520.8,2156.8 1521.2,2084 1521.2,1847.1 1521.8,1820.9 1521.8,2120.7 1522.2,1987.1 1522.2,1824.5 1522.8,1924.2 1522.8,2113.8 1523.2,2078.5 1523.2,1901.7 1523.8,1865.4 1523.8,2140 1524.2,2061.7 1524.2,1779.4 1524.8,1912.8 1524.8,2123.8 1525.2,2089.4 1525.2,1705.7 1525.8,1998.2 1525.8,2148.3 1526.2,2137.3 1526.2,1919.1 1526.8,1860.7 1526.8,2148.7 1527.2,2148.6 1527.2,2037.9 1527.8,1934.1 1527.8,2130.2 1528.2,2175 1528.2,1823.5 1528.8,1812.5 1528.8,2169.7 1529.2,2099.2 1529.2,1777.3 1529.8,1854.1 1529.8,2142.3 1530.2,2089.4 1530.2,1882.2 1530.8,1990.7 1530.8,2145.1 1531.2,2198.7 1531.2,1900.1 1531.8,1837.4 1531.8,2187.3 1532.2,2111 1532.2,1930.5 1532.8,1974.5 1532.8,2143.2 1533.2,2148 1533.2,1669.7 1533.8,1890.3 1533.8,2119.2 1534.2,2132.2 1534.2,1936 1534.8,1982.3 1534.8,2189.5 1535.2,2070 1535.2,1885.7 1535.8,1880.2 1535.8,2068.5 1536.2,2167 1536.2,1979.4 1536.8,1854.1 1536.8,2145.1 1537.2,2112.1 1537.2,1874.4 1537.8,1967.5 1537.8,2155.3 1538.2,2148.5 1538.2,1871.2 1538.8,1947.2 1538.8,2122.5 1539.2,2136.1 1539.2,1992.7 1539.8,1962.9 1539.8,2164.5 1540.2,2095.9 1540.2,1878.3 1540.8,1945.1 1540.8,2108.4 1541.2,2062.6 1541.2,1844.4 1541.8,1757.1 1541.8,2142.7 1542.2,2134.7 1542.2,1929.7 1542.8,1925.8 1542.8,2075.6 1543.2,2081.1 1543.2,1895.6 1543.8,1740.6 1543.8,2132.2 1544.2,2113 1544.2,1906 1544.8,1835.9 1544.8,2135.1 1545.2,2117.6 1545.2,1758.1 1545.8,1950.6 1545.8,2165.6 1546.2,2105.9 1546.2,1801.6 1546.8,1881.6 1546.8,2138.1 1547.2,2099.4 1547.2,1811.2 1547.8,1991.6 1547.8,2132.1 1548.2,2101.2 1548.2,1866.6 1548.8,2013.2 1548.8,2153.2 1549.2,2074.1 1549.2,1895.3 1549.8,1842.7 1549.8,2150.1 1550.2,2141.2 1550.2,1923 1550.8,1977 1550.8,2148.6 1551.2,2107.3 1551.2,1825.1 1551.8,1762.3 1551.8,2087.4 1552.2,2143 1552.2,1765.9 1552.8,1922.2 1552.8,2148.9 1553.2,2060.3 1553.2,1821.8 1553.8,1847.7 1553.8,2164.4 1554.2,2140.1 1554.2,1935.1 1554.8,1929 1554.8,2143.4 1555.2,2079.5 1555.2,1955.6 1555.8,1858.5 1555.8,2170.7 1556.2,2117.9 1556.2,1924.7 1556.8,1923.8 1556.8,2182 1557.2,2133.8 1557.2,2005.3 1557.8,1858 1557.8,2123 1558.2,2156.9 1558.2,1706.7 1558.8,1861.8 1558.8,2173.7 1559.2,2176.3 1559.2,1948.5 1559.8,1864.4 1559.8,2111.2 1560.2,2194.6 1560.2,1879.8 1560.8,1837.6 1560.8,2131.4 1561.2,2078.2 1561.2,1883.2 1561.8,1922.3 1561.8,2190.1 1562.2,2090.6 1562.2,1863.5 1562.8,1981.4 1562.8,2142.9 1563.2,2155.3 1563.2,1920.4 1563.8,1782.1 1563.8,2129.7 1564.2,2149.7 1564.2,1985.2 1564.8,1886.6 1564.8,2150.8 1565.2,2104.8 1565.2,1937.8 1565.8,1873.8 1565.8,2106.2 1566.2,2149.5 1566.2,1893.1 1566.8,1938.1 1566.8,2152.4 1567.2,2097.4 1567.2,1926 1567.8,1857.3 1567.8,2134 1568.2,2104.8 1568.2,1949 1568.8,1878.9 1568.8,2101.2 1569.2,2169.5 1569.2,1948 1569.8,1910.9 1569.8,2148.8 1570.2,2082.6 1570.2,1839.8 1570.8,1868.5 1570.8,2104.4 1571.2,2171 1571.2,1799.7 1571.8,1961 1571.8,2138.9 1572.2,2173.2 1572.2,1887.1 1572.8,2049.8 1572.8,2195.5 1573.2,2095.7 1573.2,1807.1 1573.8,1850.4 1573.8,2192.9 1574.2,2123.6 1574.2,1861.8 1574.8,1890.3 1574.8,2196.9 1575.2,2106.2 1575.2,1987.8 1575.8,1798.2 1575.8,2130 1576.2,2136 1576.2,1811.2 1576.8,1942 1576.8,2131.1 1577.2,2144.3 1577.2,2030.9 1577.8,2002.6 1577.8,2078.3 1578.2,2132.3 1578.2,1795.7 1578.8,1898.2 1578.8,2109.3 1579.2,2075.6 1579.2,1904.2 1579.8,1934.2 1579.8,2101.1 1580.2,2153 1580.2,1741.5 1580.8,1871.7 1580.8,2117.8 1581.2,2078.4 1581.2,1851.5 1581.8,1959.4 1581.8,2074.3 1582.2,2148.6 1582.2,1925.1 1582.8,1805.1 1582.8,2113.3 1583.2,2100.3 1583.2,1939.7 1583.8,1800 1583.8,2189.6 1584.2,2131 1584.2,1836.1 1584.8,1843.2 1584.8,2167.5 1585.2,2105.1 1585.2,1783.6 1585.8,1955.6 1585.8,2171 1586.2,2110.7 1586.2,2029.8 1586.8,1878.7 1586.8,2150.9 1587.2,2150.3 1587.2,1817.4 1587.8,1856.7 1587.8,2136.5 1588.2,2104.3 1588.2,1771.4 1588.8,2015.1 1588.8,2136.4 1589.2,2130.2 1589.2,1856.7 1589.8,1979.5 1589.8,2108.1 1590.2,2109.6 1590.2,1943.4 1590.8,1837.6 1590.8,2131.9 1591.2,2058.1 1591.2,1820.6 1591.8,1801 1591.8,2114.8 1592.2,2127.5 1592.2,1914.7 1592.8,1757.6 1592.8,2182.6 1593.2,2198.5 1593.2,1919.2 1593.8,1656.9 1593.8,2154.3 1594.2,2130.1 1594.2,1796.1 1594.8,1776.2 1594.8,2078.7 1595.2,2123.8 1595.2,1949.8 1595.8,1821.1 1595.8,2154.4 1596.2,2154.5 1596.2,1850.7 1596.8,1972.3 1596.8,2136.8 1597.2,2147.2 1597.2,1744.9 1597.8,1923.4 1597.8,2153.6 1598.2,2136.8 1598.2,1835.5 1598.8,1820.9 1598.8,2127.8 1599.2,2067.2 1599.2,1918.6 1599.8,1801.5 1599.8,2091.7 1600.2,2113.5 1600.2,1972.5 1600.8,1759.5 1600.8,2199.1 1601.2,2190.2 1601.2,1823.6 1601.8,1914.7 1601.8,2162.2 1602.2,2142.6 1602.2,1784.8 1602.8,1837.9 1602.8,2170.2 1603.2,2086.9 1603.2,1799.5 1603.8,1955.1 1603.8,2081.1 1604.2,2168.2 1604.2,1796.8 1604.8,1924.9 1604.8,2188.1 1605.2,2109.9 1605.2,1905.7 1605.8,1828.4 1605.8,2046.3 1606.2,2179.9 1606.2,1926.2 1606.8,1884.7 1606.8,2083.3 1607.2,2155 1607.2,1872.7 1607.8,1979.4 1607.8,2116.7 1608.2,2142.5 1608.2,1829.6 1608.8,1962.8 1608.8,2044.2 1609.2,2142.1 1609.2,1658.5 1609.8,1891.6 1609.8,2173.8 1610.2,2154.6 1610.2,1861.2 1610.8,1871.6 1610.8,2175.6 1611.2,2080.5 1611.2,1892.2 1611.8,1871.1 1611.8,2139.1 1612.2,2169.4 1612.2,1855.2 1612.8,1988.5 1612.8,2179.1 1613.2,2180.7 1613.2,1868.9 1613.8,1869.6 1613.8,2152.2 1614.2,2067.2 1614.2,1877 1614.8,2003.2 1614.8,2133.2 1615.2,2101.1 1615.2,1883.5 1615.8,1758.5 1615.8,2125.3 1616.2,2102 1616.2,1950.1 1616.8,1928.2 1616.8,2157.3 1617.2,2145.2 1617.2,2018 1617.8,1934.4 1617.8,2140.3 1618.2,2066.1 1618.2,1869.4 1618.8,1938.8 1618.8,2156.3 1619.2,2139.2 1619.2,1963.1 1619.8,1706.7 1619.8,2106.1 1620.2,2079.9 1620.2,1881.1 1620.8,1832.4 1620.8,2149.3 1621.2,2158.7 1621.2,1845 1621.8,1819.9 1621.8,2074.2 1622.2,2167.4 1622.2,1977.4 1622.8,1839.3 1622.8,2140.2 1623.2,2142.3 1623.2,1960.6 1623.8,1995 1623.8,2120.7 1624.2,2121 1624.2,1944.9 1624.8,1898.8 1624.8,2158.5 1625.2,2148.6 1625.2,1842.9 1625.8,1913.3 1625.8,2007.9 1626.2,2186.1 1626.2,1892.9 1626.8,1908.7 1626.8,2183.3 1627.2,2031.5 1627.2,1875.3 1627.8,1884 1627.8,2090.5 1628.2,2155.9 1628.2,1938.2 1628.8,1837.6 1628.8,2113.7 1629.2,2134.1 1629.2,1947.7 1629.8,1871.4 1629.8,2150.8 1630.2,2055.3 1630.2,1873.2 1630.8,1955.1 1630.8,2114.3 1631.2,2112.5 1631.2,1746.4 1631.8,1981.7 1631.8,2115 1632.2,2164.9 1632.2,1909.9 1632.8,1873.5 1632.8,2114.2 1633.2,2138.1 1633.2,1888.4 1633.8,1917.2 1633.8,2071.1 1634.2,2081.6 1634.2,1860.5 1634.8,1660.5 1634.8,2139.8 1635.2,2111.6 1635.2,1967.7 1635.8,1883.1 1635.8,2131.7 1636.2,2105.8 1636.2,2004.2 1636.8,1821.2 1636.8,2034.7 1637.2,2151 1637.2,1935.8 1637.8,1817 1637.8,2155.2 1638.2,2171.5 1638.2,1954.2 1638.8,1813.3 1638.8,2106.9 1639.2,2089.6 1639.2,1946.7 1639.8,1861.8 1639.8,2085.4 1640.2,2082.9 1640.2,1917.6 1640.8,1871.8 1640.8,2078.5 1641.2,2124.6 1641.2,1966.3 1641.8,1921 1641.8,2092.8 1642.2,2117.2 1642.2,1770.7 1642.8,2005.5 1642.8,2166.1 1643.2,2165.5 1643.2,1921.6 1643.8,1868.8 1643.8,2099.4 1644.2,2148.1 1644.2,1932.1 1644.8,1884.1 1644.8,2145.1 1645.2,2106.7 1645.2,1744.7 1645.8,1856.8 1645.8,2155.3 1646.2,2184.4 1646.2,2065.4 1646.8,1818.8 1646.8,2145.2 1647.2,2189.9 1647.2,1958.6 1647.8,1969.4 1647.8,2133.1 1648.2,2178.2 1648.2,1927.3 1648.8,1775.7 1648.8,2087.1 1649.2,2189.5 1649.2,1824.1 1649.8,1880.3 1649.8,2135.1 1650.2,2117.4 1650.2,1803.5 1650.8,1987 1650.8,2173.8 1651.2,2134.1 1651.2,1796.5 1651.8,1929.2 1651.8,2142.1 1652.2,2088.3 1652.2,1768.3 1652.8,1977.4 1652.8,2113.5 1653.2,2119.7 1653.2,1811.2 1653.8,1911.6 1653.8,2165.8 1654.2,2048.6 1654.2,1921.7 1654.8,1879.4 1654.8,2155.8 1655.2,2160.2 1655.2,1788.1 1655.8,1782.9 1655.8,2109.4 1656.2,2114.4 1656.2,1861.8 1656.8,1943.9 1656.8,2094 1657.2,2142.3 1657.2,1909.4 1657.8,1815.3 1657.8,2161.9 1658.2,2096.1 1658.2,1816.5 1658.8,2054 1658.8,2118.7 1659.2,2160.8 1659.2,1875 1659.8,1887.4 1659.8,2008.7 1660.2,2128.4 1660.2,1906.1 1660.8,1874.5 1660.8,2116.1 1661.2,2057.1 1661.2,1935.6 1661.8,1854.5 1661.8,2126.7 1662.2,2065.2 1662.2,1825.6 1662.8,1871.3 1662.8,2167.3 1663.2,2123.2 1663.2,1741.5 1663.8,1903.2 1663.8,2175.2 1664.2,2160.4 1664.2,2024 1664.8,1962.6 1664.8,2154.3 1665.2,2116.3 1665.2,1926.5 1665.8,1800.3 1665.8,2137.9 1666.2,2070.3 1666.2,1799.1 1666.8,1855.7 1666.8,2117.8 1667.2,2093.1 1667.2,1771.4 1667.8,1800 1667.8,2098.6 1668.2,2162.4 1668.2,1791.6 1668.8,1904.9 1668.8,2130 1669.2,2124.4 1669.2,1788.3 1669.8,1803.1 1669.8,2177.2 1670.2,2051.1 1670.2,1669.7 1670.8,1880 1670.8,2092.2 1671.2,2043.8 1671.2,1882.4 1671.8,1961.2 1671.8,2108.7 1672.2,2154.6 1672.2,1928.6 1672.8,1867.1 1672.8,2065.8 1673.2,2141.8 1673.2,1980 1673.8,1745.6 1673.8,2102.8 1674.2,2118.6 1674.2,1936.4 1674.8,1844.9 1674.8,2075.9 1675.2,2152.2 1675.2,1926.8 1675.8,1849.6 1675.8,2086.9 1676.2,2191.4 1676.2,1992.7 1676.8,1949 1676.8,2079.2 1677.2,2154.2 1677.2,1975.5 1677.8,1996.1 1677.8,2102.1 1678.2,2139.3 1678.2,1908.7 1678.8,1831.4 1678.8,2131.2 1679.2,2137 1679.2,1766.5 1679.8,1954.7 1679.8,2136.5 1680.2,2144.2 1680.2,1929.2 1680.8,1857.5 1680.8,2093.6 1681.2,2087.7 1681.2,1881.6 1681.8,1925 1681.8,2087.6 1682.2,2125.7 1682.2,1749.8 1682.8,1979.6 1682.8,2175.5 1683.2,2116.8 1683.2,1882.9 1683.8,1960.2 1683.8,2099.5 1684.2,2167 1684.2,1972.1 1684.8,2016.7 1684.8,2104.1 1685.2,2157.4 1685.2,1944.6 1685.8,1816.8 1685.8,2093 1686.2,2153.3 1686.2,1793.2 1686.8,1893 1686.8,2187.9 1687.2,2153.7 1687.2,1863.4 1687.8,1840.3 1687.8,2127.8 1688.2,2104.4 1688.2,1814.3 1688.8,1955.6 1688.8,2168.9 1689.2,2148.6 1689.2,1741.5 1689.8,1852.6 1689.8,2096.5 1690.2,2064.2 1690.2,1759.1 1690.8,1872.4 1690.8,2062.3 1691.2,2135.9 1691.2,1839.9 1691.8,1976.3 1691.8,2104.2 1692.2,2112.9 1692.2,1843.8 1692.8,1846.3 1692.8,2108.9 1693.2,2176.4 1693.2,1797.4 1693.8,1826.3 1693.8,2072.9 1694.2,2135.1 1694.2,1831.6 1694.8,1905.4 1694.8,2152.7 1695.2,2131 1695.2,1967.5 1695.8,1897.2 1695.8,2107.8 1696.2,2107.8 1696.2,1836.9 1696.8,1917.7 1696.8,2141.4 1697.2,2114.5 1697.2,1807.3 1697.8,1993.4 1697.8,2164.3 1698.2,2104.5 1698.2,1848.3 1698.8,1875.4 1698.8,2100.8 1699.2,2128.2 1699.2,1884.2 1699.8,1845.1 1699.8,2091.4 1700.2,2130.1 1700.2,1894.7 1700.8,1959.1 1700.8,2162.6 1701.2,2093.3 1701.2,1875.7 1701.8,1891.7 1701.8,2191.9 1702.2,2093.4 1702.2,1963.3 1702.8,1926.2 1702.8,2145.2 1703.2,2077.6 1703.2,1813 1703.8,1862.2 1703.8,2110.5 1704.2,2120.3 1704.2,1946.1 1704.8,1861.8 1704.8,2157.5 1705.2,2070.1 1705.2,1925.9 1705.8,1814.5 1705.8,2172.1 1706.2,2109.5 1706.2,1964.8 1706.8,1866.4 1706.8,2116.1 1707.2,2172 1707.2,1874.5 1707.8,1924.4 1707.8,2152 1708.2,2092.7 1708.2,1846.8 1708.8,1987 1708.8,2168.5 1709.2,2168.9 1709.2,1917.3 1709.8,1797.7 1709.8,2129.3 1710.2,2103.4 1710.2,1798.2 1710.8,1890.4 1710.8,2109.9 1711.2,2137.4 1711.2,1889.3 1711.8,1897.7 1711.8,2153.2 1712.2,2159.7 1712.2,1921.9 1712.8,1873.2 1712.8,2076.3 1713.2,2188 1713.2,1943.3 1713.8,1865 1713.8,2192.2 1714.2,2122.1 1714.2,1946.6 1714.8,1834.9 1714.8,2132.1 1715.2,2168.8 1715.2,1863.8 1715.8,1770.8 1715.8,2076.2 1716.2,2157.9 1716.2,1836.7 1716.8,1932.9 1716.8,2125.9 1717.2,2126.1 1717.2,1923.4 1717.8,1884.9 1717.8,2061 1718.2,2171.8 1718.2,1888.9 1718.8,1846.1 1718.8,2146.5 1719.2,2063 1719.2,1839.7 1719.8,1912 1719.8,2178.9 1720.2,2070.9 1720.2,1870.9 1720.8,1900.7 1720.8,2152.9 1721.2,2125.1 1721.2,1823.2 1721.8,1884.9 1721.8,2135.9 1722.2,2156.7 1722.2,1748.5 1722.8,1892 1722.8,2156.8 1723.2,2059.5 1723.2,1917.2 1723.8,1881.3 1723.8,2167 1724.2,2101.5 1724.2,1954.7 1724.8,1978.8 1724.8,2104.1 1725.2,2114.3 1725.2,1874.4 1725.8,1870 1725.8,2175.9 1726.2,2152.8 1726.2,1958.3 1726.8,1888.3 1726.8,2120.6 1727.2,2130.8 1727.2,1890.4 1727.8,1999.3 1727.8,2141.8 1728.2,2143.1 1728.2,1748.5 1728.8,1780.5 1728.8,2146.4 1729.2,2083.2 1729.2,1965.3 1729.8,1891.1 1729.8,2166.5 1730.2,2018.3 1730.2,1889.8 1730.8,1916.8 1730.8,2139.9 1731.2,2075.9 1731.2,1867 1731.8,1788.1 1731.8,2036.1 1732.2,2167.8 1732.2,1910.9 1732.8,1917.6 1732.8,2138.5 1733.2,2084 1733.2,1936.3 1733.8,1814 1733.8,2169.3 1734.2,2169.8 1734.2,1900.1 1734.8,1881.8 1734.8,2160.9 1735.2,2150.7 1735.2,1994.3 1735.8,1988 1735.8,2123.6 1736.2,1994.4 1736.2,1854.2 1736.8,1897.6 1736.8,2122.9 1737.2,2179.6 1737.2,1888.5 1737.8,1991.7 1737.8,2124.7 1738.2,2165 1738.2,1936.6 1738.8,1883.2 1738.8,2051 1739.2,2081.9 1739.2,1875.1 1739.8,1905.5 1739.8,2121.7 1740.2,2085.2 1740.2,1886.4 1740.8,1833.2 1740.8,2128.5 1741.2,2106.6 1741.2,1943.7 1741.8,1837.7 1741.8,2064.8 1742.2,2172.8 1742.2,1847.5 1742.8,1952.3 1742.8,2107 1743.2,1994.1 1743.2,1814.2 1743.8,1865.9 1743.8,2114.3 1744.2,2166.7 1744.2,1738.9 1744.8,1932.8 1744.8,2159.3 1745.2,2173.3 1745.2,1862.6 1745.8,1875.1 1745.8,2165.9 1746.2,2146.6 1746.2,1777.7 1746.8,1922.6 1746.8,2160.4 1747.2,2147.5 1747.2,1967.3 1747.8,1835 1747.8,2118.2 1748.2,2115.7 1748.2,1764.8 1748.8,1755.9 1748.8,2157.8 1749.2,2166.8 1749.2,1995.7 1749.8,1845.7 1749.8,2147.9 1750.2,2085.8 1750.2,1909.2 1750.8,1941.6 1750.8,2188.3 1751.2,2070.7 1751.2,1904.6 1751.8,1903.5 1751.8,2159.2 1752.2,2149 1752.2,1729.7 1752.8,1944.9 1752.8,2161.5 1753.2,2187.8 1753.2,1922.2 1753.8,1997.6 1753.8,2104.2 1754.2,2161.3 1754.2,1901.2 1754.8,1839.4 1754.8,2137.4 1755.2,2037.4 1755.2,1821.5 1755.8,1879.9 1755.8,2074.7 1756.2,2087.9 1756.2,1791.3 1756.8,1921 1756.8,2063.1 1757.2,2158.1 1757.2,1894.4 1757.8,1808.4 1757.8,2066.1 1758.2,2056.7 1758.2,1840.4 1758.8,1978.9 1758.8,2172.7 1759.2,2106 1759.2,1881.6 1759.8,1832.5 1759.8,2110.4 1760.2,2158.9 1760.2,1838.6 1760.8,1867 1760.8,2075.8 1761.2,2052.1 1761.2,1876.1 1761.8,1916.8 1761.8,2119.9 1762.2,2192.8 1762.2,1945.3 1762.8,1999.4 1762.8,2179 1763.2,2171.8 1763.2,1872.8 1763.8,1952.7 1763.8,2179.6 1764.2,2158.3 1764.2,2011.7 1764.8,1838.5 1764.8,2147.8 1765.2,2100.4 1765.2,1820.3 1765.8,1834.9 1765.8,2171 1766.2,2187.4 1766.2,1909.3 1766.8,1939.2 1766.8,2150.7 1767.2,2129.4 1767.2,1882.1 1767.8,1890 1767.8,2165.3 1768.2,2083.1 1768.2,1911.2 1768.8,1884.7 1768.8,2093 1769.2,2174.5 1769.2,1921.1 1769.8,1880.7 1769.8,2079.7 1770.2,2167.7 1770.2,1989.1 1770.8,1922.6 1770.8,2143.8 1771.2,2125.9 1771.2,1791.2 1771.8,1823.4 1771.8,2147.5 1772.2,2063.3 1772.2,1936.6 1772.8,1913.6 1772.8,2158.2 1773.2,2193 1773.2,1980.4 1773.8,1940.9 1773.8,2145.4 1774.2,2176.5 1774.2,1979.6 1774.8,1899.7 1774.8,2102 1775.2,2013.8 1775.2,1826.1 1775.8,1854 1775.8,2134 1776.2,2131.1 1776.2,1894.2 1776.8,1830.7 1776.8,2122.3 1777.2,2118.5 1777.2,1868 1777.8,1944 1777.8,2075.4 1778.2,2140.9 1778.2,1852 1778.8,1902.8 1778.8,2061.5 1779.2,2159.7 1779.2,1819.5 1779.8,1862.2 1779.8,2138.4 1780.2,2171.9 1780.2,1970.2 1780.8,1796.1 1780.8,2126.3 1781.2,2162.6 1781.2,2038.4 1781.8,1917 1781.8,2140.5 1782.2,2101.9 1782.2,1890.4 1782.8,1876 1782.8,2143.4 1783.2,2094.3 1783.2,1804.9 1783.8,1996.7 1783.8,2150.3 1784.2,2111.7 1784.2,1883.6 1784.8,1781.3 1784.8,2175.9 1785.2,2104.3 1785.2,1656.9 1785.8,1946.7 1785.8,2060.2 1786.2,2097.1 1786.2,1824.9 1786.8,1942.8 1786.8,2131.6 1787.2,2145.9 1787.2,1849.5 1787.8,1868 1787.8,2175.5 1788.2,2056.2 1788.2,1812.1 1788.8,1785.7 1788.8,2107.7 1789.2,2166 1789.2,1822.3 1789.8,1915 1789.8,2157.7 1790.2,2067.3 1790.2,1961.4 1790.8,1851.6 1790.8,2184 1791.2,2105.4 1791.2,1886 1791.8,1880.2 1791.8,2166.4 1792.2,2061.7 1792.2,1807.3 1792.8,1874.6 1792.8,2173.5 1793.2,2087.7 1793.2,1897.4 1793.8,1777.4 1793.8,2080.7 1794.2,2107.5 1794.2,1718.8 1794.8,1978.5 1794.8,2138.3 1795.2,2133.4 1795.2,1877 1795.8,1845.3 1795.8,2065.4 1796.2,2186 1796.2,1861.9 1796.8,1901 1796.8,2098.6 1797.2,2080.9 1797.2,1880.8 1797.8,1814 1797.8,2145.8 1798.2,2110.5 1798.2,1857.8 1798.8,1874.1 1798.8,2144.5 1799.2,2147 1799.2,1855.8 1799.8,1858.6 1799.8,2095.9 1800.2,2198.6 1800.2,1685.6 1800.8,1868.3 1800.8,2172.2 1801.2,2115.1 1801.2,1983.1 1801.8,2013.1 1801.8,2140.6 1802.2,2043.8 1802.2,1838.2 1802.8,1757.7 1802.8,2134.1 1803.2,2144.6 1803.2,1832.8 1803.8,1863.1 1803.8,2160.7 1804.2,2199.9 1804.2,1729.7 1804.8,1852.3 1804.8,2087.8 1805.2,2156.4 1805.2,1926.3 1805.8,1850.5 1805.8,2168.6 1806.2,2100.6 1806.2,1965.7 1806.8,1789.7 1806.8,2092.1 1807.2,2191.5 1807.2,1956.7 1807.8,1863.2 1807.8,2160.4 1808.2,2191 1808.2,1859.7 1808.8,1853.1 1808.8,2111.4 1809.2,2111.7 1809.2,2002.4 1809.8,1795.1 1809.8,2154 1810.2,2111.3 1810.2,1893.3 1810.8,1771.1 1810.8,2117.9 1811.2,2141.5 1811.2,1840.3 1811.8,1882.1 1811.8,2180.5 1812.2,2085.8 1812.2,1903.4 1812.8,1996.3 1812.8,2166.3 1813.2,2126 1813.2,2009.6 1813.8,1815.2 1813.8,2095.6 1814.2,2132.8 1814.2,1951.2 1814.8,1833.7 1814.8,2147.8 1815.2,2123.7 1815.2,1943.7 1815.8,1806.2 1815.8,2118.6 1816.2,2106.6 1816.2,1865.6 1816.8,1935.7 1816.8,2166.5 1817.2,2134.1 1817.2,1837 1817.8,1939.1 1817.8,2100.8 1818.2,2141.8 1818.2,1727.7 1818.8,1878.2 1818.8,2077.9 1819.2,2116.7 1819.2,1917.6 1819.8,1814.3 1819.8,2140.8 1820.2,2149 1820.2,1975.2 1820.8,1944.8 1820.8,2129.1 1821.2,2068.3 1821.2,1878 1821.8,1838.6 1821.8,2093.6 1822.2,2056.7 1822.2,1878.3 1822.8,1891.8 1822.8,2121.7 1823.2,2187 1823.2,1916.8 1823.8,1838.2 1823.8,2182.1 1824.2,2062.8 1824.2,1812.1 1824.8,1906.1 1824.8,2045.8 1825.2,2153.5 1825.2,1854 1825.8,1919.9 1825.8,2177.1 1826.2,2135.8 1826.2,1772.3 1826.8,2027.7 1826.8,2118.5 1827.2,2060.7 1827.2,1846 1827.8,1827.5 1827.8,2154.3 1828.2,2143.5 1828.2,1931.7 1828.8,1958.6 1828.8,2083.2 1829.2,2120.3 1829.2,1857.9 1829.8,1868.4 1829.8,2102.7 1830.2,2094.4 1830.2,1886.2 1830.8,2018.8 1830.8,2159.2 1831.2,2051.4 1831.2,1994.6 1831.8,1943.9 1831.8,2090.8 1832.2,2103.4 1832.2,1878.9 1832.8,1969.3 1832.8,2157.9 1833.2,2187.4 1833.2,1947.2 1833.8,1860.1 1833.8,2158.3 1834.2,2150.5 1834.2,1878.8 1834.8,1821.8 1834.8,2123.1 1835.2,2110.8 1835.2,1912.5 1835.8,1888.9 1835.8,2094 1836.2,1999.7 1836.2,1854.4 1836.8,1971.8 1836.8,2135.8 1837.2,2110.4 1837.2,1841.6 1837.8,1998.2 1837.8,2151.9 1838.2,2203.3 1838.2,1989.7 1838.8,1695.8 1838.8,2137.1 1839.2,2081.6 1839.2,1920.9 1839.8,1951 1839.8,2185.6 1840.2,2185 1840.2,1985.9 1840.8,1963.4 1840.8,2128.8 1841.2,2080.5 1841.2,1807.2 1841.8,1881.2 1841.8,2152.6 1842.2,2160.3 1842.2,1833.5 1842.8,1715.6 1842.8,2097.4 1843.2,2139.5 1843.2,1950.2 1843.8,1782 1843.8,2139.9 1844.2,2145.3 1844.2,1941.4 1844.8,1989.6 1844.8,2153.2 1845.2,2176.9 1845.2,1997 1845.8,1968.1 1845.8,2114 1846.2,2168.9 1846.2,1804.4 1846.8,1915.2 1846.8,2184.7 1847.2,2141 1847.2,1950.5 1847.8,2015.5 1847.8,2134.4 1848.2,2111.3 1848.2,1808.1 1848.8,1897.2 1848.8,2129 1849.2,2082.1 1849.2,1843.1 1849.8,1951.8 1849.8,2135.1 1850.2,2137.4 1850.2,1916.9 1850.8,1788.4 1850.8,2128.7 1851.2,2097.2 1851.2,1924.9 1851.8,1969.1 1851.8,2133.2 1852.2,2092.4 1852.2,1942.8 1852.8,1882.3 1852.8,2116.8 1853.2,2167.2 1853.2,1867.7 1853.8,1825.4 1853.8,2150.4 1854.2,2079.1 1854.2,1770.5 1854.8,1928.2 1854.8,2071.5 1855.2,2133 1855.2,1703.8 1855.8,1859.6 1855.8,2052.4 1856.2,2128.3 1856.2,1873.4 1856.8,1764.7 1856.8,2034.7 1857.2,2147.4 1857.2,1828.3 1857.8,1981.3 1857.8,2172.5 1858.2,2037.2 1858.2,1781.6 1858.8,1844.6 1858.8,2065.2 1859.2,2156 1859.2,1922.1 1859.8,1741.5 1859.8,2102.3 1860.2,2129.8 1860.2,1811.1 1860.8,1862.9 1860.8,2178 1861.2,2121.1 1861.2,1905.1 1861.8,1901.9 1861.8,2122.9 1862.2,2082.7 1862.2,1827.8 1862.8,1893.5 1862.8,2160.6 1863.2,2157.4 1863.2,1869.8 1863.8,1974.5 1863.8,2118.1 1864.2,2117.1 1864.2,1884.2 1864.8,1844.3 1864.8,2164.6 1865.2,2128.8 1865.2,1911.3 1865.8,1901.8 1865.8,2096.5 1866.2,2121.5 1866.2,1928.3 1866.8,1930.6 1866.8,2148.5 1867.2,2183.5 1867.2,1809.9 1867.8,1876.9 1867.8,2120.6 1868.2,2087.9 1868.2,1734.8 1868.8,1795.1 1868.8,2144.7 1869.2,2146.1 1869.2,1904.5 1869.8,1875.9 1869.8,2153.8 1870.2,2182.1 1870.2,1998 1870.8,1894.6 1870.8,2117.5 1871.2,2170.9 1871.2,1960.8 1871.8,1800.8 1871.8,2143.9 1872.2,2159 1872.2,1956.6 1872.8,1897.5 1872.8,2072.3 1873.2,2158.7 1873.2,1962.4 1873.8,1890.5 1873.8,2155.2 1874.2,2076.2 1874.2,1882.5 1874.8,1900.6 1874.8,2097.2 1875.2,2124.9 1875.2,1802 1875.8,1992.6 1875.8,2122.6 1876.2,2155.8 1876.2,1899.9 1876.8,1927.5 1876.8,2127.6 1877.2,2083.2 1877.2,1842.1 1877.8,1883.1 1877.8,2178.6 1878.2,2130.6 1878.2,1922.3 1878.8,1907.5 1878.8,2095.1 1879.2,2154.7 1879.2,1892.5 1879.8,2010.1 1879.8,2148.3 1880.2,2114.2 1880.2,1671.9 1880.8,1936.2 1880.8,2137.6 1881.2,2117.3 1881.2,1898.9 1881.8,1841.1 1881.8,2073.6 1882.2,2133.9 1882.2,1929.7 1882.8,1951.3 1882.8,2114.2 1883.2,2122.5 1883.2,1863.3 1883.8,1832.6 1883.8,2150.3 1884.2,2068.9 1884.2,1886.9 1884.8,1933.1 1884.8,2068.1 1885.2,2167.6 1885.2,1886.9 1885.8,1917.7 1885.8,2121 1886.4,2167.6 1886.4,1886.9" fill="none" stroke="#0000ff" stroke-width="3.3" stroke-linejoin="round" stroke-linecap="round"/>
</svg>
</body></html>
